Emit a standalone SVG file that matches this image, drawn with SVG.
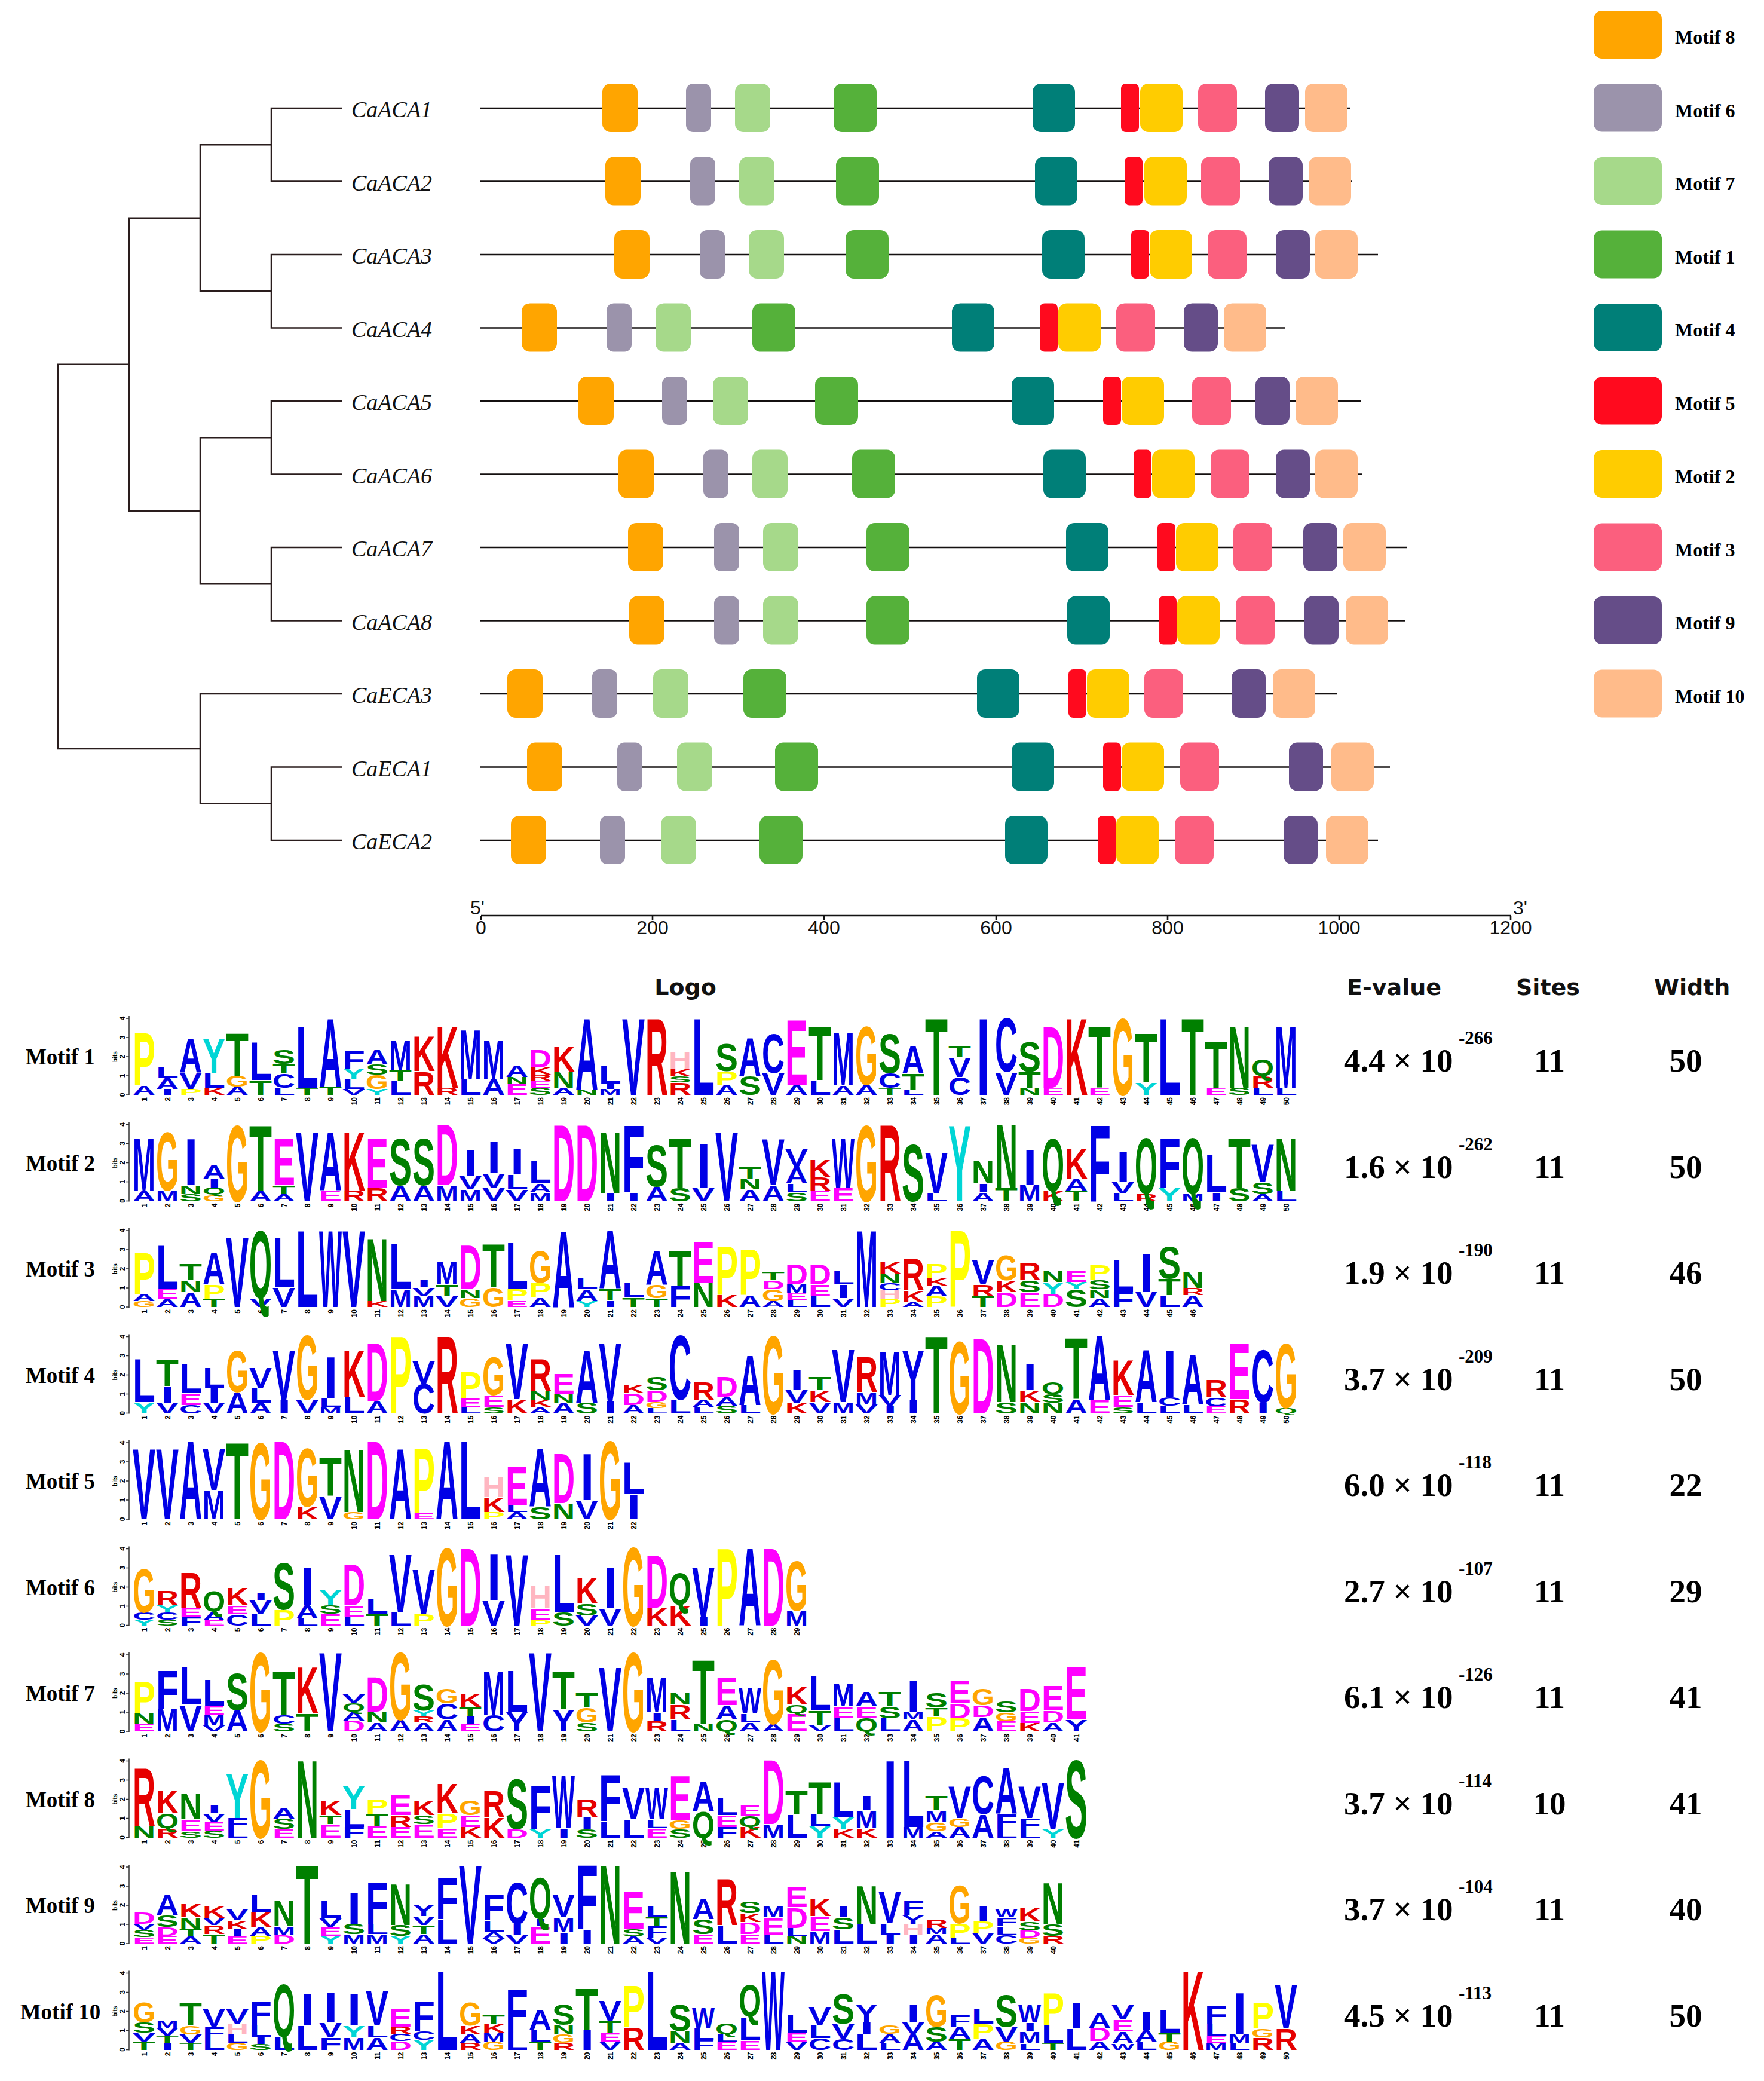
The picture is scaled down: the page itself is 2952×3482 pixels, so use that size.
<svg xmlns="http://www.w3.org/2000/svg" xmlns:xlink="http://www.w3.org/1999/xlink" width="2952" height="3482" viewBox="0 0 2952 3482">
<style>
.tree{fill:none;stroke:#2a1d1d;stroke-width:2.5;stroke-linecap:square}
.seq{stroke:#141010;stroke-width:2.6}
.lab{font:italic 38px "Liberation Serif","Times New Roman",serif;fill:#111}
.leg{font:bold 32px "Liberation Serif","Times New Roman",serif;fill:#000}
.tk{font:32px "Liberation Sans",Arial,sans-serif;fill:#111}
.hd{font:bold 38px "DejaVu Sans",Verdana,sans-serif;fill:#111}
.ev{font:bold 55px "Liberation Serif","Times New Roman",serif;fill:#000}
.sup{font:bold 31px "Liberation Serif","Times New Roman",serif;fill:#000}
.ml{font:bold 37px "Liberation Serif","Times New Roman",serif;fill:#000}
.lg text{font:bold 139.7px "Liberation Sans",Arial,sans-serif}
.nm{font:bold 12px "Liberation Sans",Arial,sans-serif;fill:#000}
.axl{fill:none;stroke:#333;stroke-width:1.5}
.b{fill:#0000e6}.g{fill:#008000}.o{fill:#ffa500}.y{fill:#ffff00}.c{fill:#00d5d5}.r{fill:#e60000}.m{fill:#ff00ff}.p{fill:#ffb6c1}
</style>
<defs>
<rect id="b8" width="59" height="81" rx="14" fill="#ffa500"/>
<rect id="b6" width="42" height="81" rx="12" fill="#9b93ab"/>
<rect id="b7" width="59" height="81" rx="14" fill="#a6d98a"/>
<rect id="b1" width="72" height="81" rx="14" fill="#55b13a"/>
<rect id="b4" width="71" height="81" rx="14" fill="#007f78"/>
<rect id="b5" width="30" height="81" rx="8" fill="#ff0a1e"/>
<rect id="b2" width="71" height="81" rx="14" fill="#ffcc00"/>
<rect id="b3" width="65" height="81" rx="14" fill="#fb5f7e"/>
<rect id="b9" width="57" height="81" rx="14" fill="#654d88"/>
<rect id="b10" width="71" height="81" rx="14" fill="#ffbb8a"/>
<g id="ax"><path class="axl" d="M-6 1V-132M-11 0h5M-11 -32h5M-11 -64h5M-11 -96h5M-11 -128h5"/><g transform="rotate(-90)" class="nm" text-anchor="middle"><text x="0" y="-13">0</text><text x="32" y="-13">1</text><text x="64" y="-13">2</text><text x="96" y="-13">3</text><text x="128" y="-13">4</text><text x="64" y="-26" font-size="10">bits</text></g></g>
<g id="n22"><text class="nm" text-anchor="end"><tspan x="-4" y="24">1</tspan><tspan x="-4" y="63">2</tspan><tspan x="-4" y="102">3</tspan><tspan x="-4" y="141">4</tspan><tspan x="-4" y="180">5</tspan><tspan x="-4" y="219">6</tspan><tspan x="-4" y="258">7</tspan><tspan x="-4" y="297">8</tspan><tspan x="-4" y="336">9</tspan><tspan x="-4" y="375">10</tspan><tspan x="-4" y="414">11</tspan><tspan x="-4" y="453">12</tspan><tspan x="-4" y="492">13</tspan><tspan x="-4" y="531">14</tspan><tspan x="-4" y="570">15</tspan><tspan x="-4" y="609">16</tspan><tspan x="-4" y="648">17</tspan><tspan x="-4" y="687">18</tspan><tspan x="-4" y="726">19</tspan><tspan x="-4" y="765">20</tspan><tspan x="-4" y="804">21</tspan><tspan x="-4" y="843">22</tspan></text></g>
<g id="n29"><use href="#n22"/><text class="nm" text-anchor="end"><tspan x="-4" y="882">23</tspan><tspan x="-4" y="921">24</tspan><tspan x="-4" y="960">25</tspan><tspan x="-4" y="999">26</tspan><tspan x="-4" y="1038">27</tspan><tspan x="-4" y="1077">28</tspan><tspan x="-4" y="1116">29</tspan></text></g>
<g id="n40"><use href="#n29"/><text class="nm" text-anchor="end"><tspan x="-4" y="1155">30</tspan><tspan x="-4" y="1194">31</tspan><tspan x="-4" y="1233">32</tspan><tspan x="-4" y="1272">33</tspan><tspan x="-4" y="1311">34</tspan><tspan x="-4" y="1350">35</tspan><tspan x="-4" y="1389">36</tspan><tspan x="-4" y="1428">37</tspan><tspan x="-4" y="1467">38</tspan><tspan x="-4" y="1506">39</tspan><tspan x="-4" y="1545">40</tspan></text></g>
<g id="n41"><use href="#n40"/><text class="nm" text-anchor="end" x="-4" y="1584">41</text></g>
<g id="n46"><use href="#n41"/><text class="nm" text-anchor="end"><tspan x="-4" y="1623">42</tspan><tspan x="-4" y="1662">43</tspan><tspan x="-4" y="1701">44</tspan><tspan x="-4" y="1740">45</tspan><tspan x="-4" y="1779">46</tspan></text></g>
<g id="n50"><use href="#n46"/><text class="nm" text-anchor="end"><tspan x="-4" y="1818">47</tspan><tspan x="-4" y="1857">48</tspan><tspan x="-4" y="1896">49</tspan><tspan x="-4" y="1935">50</tspan></text></g>
</defs>
<rect width="2952" height="3482" fill="#fff"/>

<g id="connectors" class="tree">
<path d="M97 609.75V1252.9M97 609.75H216M97 1252.9H335M216 364.75V854.75M216 364.75H335M216 854.75H335M335 242.25V487.25M335 242.25H454M335 487.25H454M335 732.25V977.25M335 732.25H454M335 977.25H454M335 1161V1344.75M335 1344.75H454M454 181V303.5M454 426V548.5M454 671V793.5M454 916V1038.5M454 1283.5V1406M454 181H571M454 303.5H571M454 426H571M454 548.5H571M454 671H571M454 793.5H571M454 916H571M454 1038.5H571M335 1161H571M454 1283.5H571M454 1406H571"/>
</g>

<g id="CaACA1"><text class="lab" x="588" y="196">CaACA1</text><path class="seq" d="M804 181H2260"/><use href="#b8" x="1008" y="140"/><use href="#b6" x="1148" y="140"/><use href="#b7" x="1230" y="140"/><use href="#b1" x="1395" y="140"/><use href="#b4" x="1728" y="140"/><use href="#b5" x="1876" y="140"/><use href="#b2" x="1908" y="140"/><use href="#b3" x="2005" y="140"/><use href="#b9" x="2117" y="140"/><use href="#b10" x="2184" y="140"/></g>
<g id="CaACA2"><text class="lab" x="588" y="318.5">CaACA2</text><path class="seq" d="M804 303.5H2262"/><use href="#b8" x="1013" y="262.5"/><use href="#b6" x="1155" y="262.5"/><use href="#b7" x="1237" y="262.5"/><use href="#b1" x="1399" y="262.5"/><use href="#b4" x="1732" y="262.5"/><use href="#b5" x="1882" y="262.5"/><use href="#b2" x="1915" y="262.5"/><use href="#b3" x="2010" y="262.5"/><use href="#b9" x="2123" y="262.5"/><use href="#b10" x="2190" y="262.5"/></g>
<g id="CaACA3"><text class="lab" x="588" y="441">CaACA3</text><path class="seq" d="M804 426H2306"/><use href="#b8" x="1028" y="385"/><use href="#b6" x="1171" y="385"/><use href="#b7" x="1253" y="385"/><use href="#b1" x="1415" y="385"/><use href="#b4" x="1744" y="385"/><use href="#b5" x="1893" y="385"/><use href="#b2" x="1924" y="385"/><use href="#b3" x="2021" y="385"/><use href="#b9" x="2135" y="385"/><use href="#b10" x="2201" y="385"/></g>
<g id="CaACA4"><text class="lab" x="588" y="563.5">CaACA4</text><path class="seq" d="M804 548.5H2150"/><use href="#b8" x="873" y="507.5"/><use href="#b6" x="1015" y="507.5"/><use href="#b7" x="1097" y="507.5"/><use href="#b1" x="1259" y="507.5"/><use href="#b4" x="1593" y="507.5"/><use href="#b5" x="1740" y="507.5"/><use href="#b2" x="1771" y="507.5"/><use href="#b3" x="1868" y="507.5"/><use href="#b9" x="1981" y="507.5"/><use href="#b10" x="2048" y="507.5"/></g>
<g id="CaACA5"><text class="lab" x="588" y="686">CaACA5</text><path class="seq" d="M804 671H2277"/><use href="#b8" x="968" y="630"/><use href="#b6" x="1108" y="630"/><use href="#b7" x="1193" y="630"/><use href="#b1" x="1364" y="630"/><use href="#b4" x="1693" y="630"/><use href="#b5" x="1846" y="630"/><use href="#b2" x="1877" y="630"/><use href="#b3" x="1995" y="630"/><use href="#b9" x="2101" y="630"/><use href="#b10" x="2168" y="630"/></g>
<g id="CaACA6"><text class="lab" x="588" y="808.5">CaACA6</text><path class="seq" d="M804 793.5H2279"/><use href="#b8" x="1035" y="752.5"/><use href="#b6" x="1177" y="752.5"/><use href="#b7" x="1259" y="752.5"/><use href="#b1" x="1426" y="752.5"/><use href="#b4" x="1746" y="752.5"/><use href="#b5" x="1897" y="752.5"/><use href="#b2" x="1928" y="752.5"/><use href="#b3" x="2026" y="752.5"/><use href="#b9" x="2135" y="752.5"/><use href="#b10" x="2201" y="752.5"/></g>
<g id="CaACA7"><text class="lab" x="588" y="931">CaACA7</text><path class="seq" d="M804 916H2355"/><use href="#b8" x="1051" y="875"/><use href="#b6" x="1195" y="875"/><use href="#b7" x="1277" y="875"/><use href="#b1" x="1450" y="875"/><use href="#b4" x="1784" y="875"/><use href="#b5" x="1937" y="875"/><use href="#b2" x="1968" y="875"/><use href="#b3" x="2064" y="875"/><use href="#b9" x="2181" y="875"/><use href="#b10" x="2248" y="875"/></g>
<g id="CaACA8"><text class="lab" x="588" y="1053.5">CaACA8</text><path class="seq" d="M804 1038.5H2352"/><use href="#b8" x="1053" y="997.5"/><use href="#b6" x="1195" y="997.5"/><use href="#b7" x="1277" y="997.5"/><use href="#b1" x="1450" y="997.5"/><use href="#b4" x="1786" y="997.5"/><use href="#b5" x="1939" y="997.5"/><use href="#b2" x="1970" y="997.5"/><use href="#b3" x="2068" y="997.5"/><use href="#b9" x="2183" y="997.5"/><use href="#b10" x="2252" y="997.5"/></g>
<g id="CaECA3"><text class="lab" x="588" y="1176">CaECA3</text><path class="seq" d="M804 1161H2237"/><use href="#b8" x="849" y="1120"/><use href="#b6" x="991" y="1120"/><use href="#b7" x="1093" y="1120"/><use href="#b1" x="1244" y="1120"/><use href="#b4" x="1635" y="1120"/><use href="#b5" x="1788" y="1120"/><use href="#b2" x="1819" y="1120"/><use href="#b3" x="1915" y="1120"/><use href="#b9" x="2061" y="1120"/><use href="#b10" x="2130" y="1120"/></g>
<g id="CaECA1"><text class="lab" x="588" y="1298.5">CaECA1</text><path class="seq" d="M804 1283.5H2326"/><use href="#b8" x="882" y="1242.5"/><use href="#b6" x="1033" y="1242.5"/><use href="#b7" x="1133" y="1242.5"/><use href="#b1" x="1297" y="1242.5"/><use href="#b4" x="1693" y="1242.5"/><use href="#b5" x="1846" y="1242.5"/><use href="#b2" x="1877" y="1242.5"/><use href="#b3" x="1975" y="1242.5"/><use href="#b9" x="2157" y="1242.5"/><use href="#b10" x="2228" y="1242.5"/></g>
<g id="CaECA2"><text class="lab" x="588" y="1421">CaECA2</text><path class="seq" d="M804 1406H2306"/><use href="#b8" x="855" y="1365"/><use href="#b6" x="1004" y="1365"/><use href="#b7" x="1106" y="1365"/><use href="#b1" x="1271" y="1365"/><use href="#b4" x="1682" y="1365"/><use href="#b5" x="1837" y="1365"/><use href="#b2" x="1868" y="1365"/><use href="#b3" x="1966" y="1365"/><use href="#b9" x="2148" y="1365"/><use href="#b10" x="2219" y="1365"/></g>

<g id="legend">
<rect x="2667" y="18" width="114" height="80" rx="14" fill="#ffa500"/><text class="leg" x="2803" y="73">Motif 8</text>
<rect x="2667" y="140.5" width="114" height="80" rx="14" fill="#9b93ab"/><text class="leg" x="2803" y="195.5">Motif 6</text>
<rect x="2667" y="263" width="114" height="80" rx="14" fill="#a6d98a"/><text class="leg" x="2803" y="318">Motif 7</text>
<rect x="2667" y="385.5" width="114" height="80" rx="14" fill="#55b13a"/><text class="leg" x="2803" y="440.5">Motif 1</text>
<rect x="2667" y="508" width="114" height="80" rx="14" fill="#007f78"/><text class="leg" x="2803" y="563">Motif 4</text>
<rect x="2667" y="630.5" width="114" height="80" rx="14" fill="#ff0a1e"/><text class="leg" x="2803" y="685.5">Motif 5</text>
<rect x="2667" y="753" width="114" height="80" rx="14" fill="#ffcc00"/><text class="leg" x="2803" y="808">Motif 2</text>
<rect x="2667" y="875.5" width="114" height="80" rx="14" fill="#fb5f7e"/><text class="leg" x="2803" y="930.5">Motif 3</text>
<rect x="2667" y="998" width="114" height="80" rx="14" fill="#654d88"/><text class="leg" x="2803" y="1053">Motif 9</text>
<rect x="2667" y="1120.5" width="114" height="80" rx="14" fill="#ffbb8a"/><text class="leg" x="2803" y="1175.5">Motif 10</text>
</g>

<g id="scale">
<path d="M805 1532H2528M805 1532v8M1092 1532v8M1379 1532v8M1667 1532v8M1954 1532v8M2241 1532v8M2528 1532v8" stroke="#111" stroke-width="2.6" fill="none"/>
<g class="tk" text-anchor="middle"><text x="805" y="1563">0</text><text x="1092" y="1563">200</text><text x="1379" y="1563">400</text><text x="1667" y="1563">600</text><text x="1954" y="1563">800</text><text x="2241" y="1563">1000</text><text x="2528" y="1563">1200</text></g>
<text class="tk" x="787" y="1530">5'</text><text class="tk" x="2532" y="1530">3'</text>
</g>

<g id="header">
<text class="hd" x="1147" y="1665" text-anchor="middle">Logo</text>
<text class="hd" x="2254" y="1665">E-value</text>
<text class="hd" x="2537" y="1665">Sites</text>
<text class="hd" x="2768" y="1665">Width</text>
</g>

<g id="table">
<g class="ml" text-anchor="middle">
<text x="101" y="1781">Motif 1</text><text x="101" y="1958.5">Motif 2</text><text x="101" y="2136">Motif 3</text><text x="101" y="2313.5">Motif 4</text><text x="101" y="2491">Motif 5</text><text x="101" y="2668.5">Motif 6</text><text x="101" y="2846">Motif 7</text><text x="101" y="3023.5">Motif 8</text><text x="101" y="3201">Motif 9</text><text x="101" y="3378.5">Motif 10</text>
</g>
<g class="ev">
<text x="2249" y="1793">4.4 × 10</text><text x="2249" y="1970.5">1.6 × 10</text><text x="2249" y="2148">1.9 × 10</text><text x="2249" y="2325.5">3.7 × 10</text><text x="2249" y="2503">6.0 × 10</text><text x="2249" y="2680.5">2.7 × 10</text><text x="2249" y="2858">6.1 × 10</text><text x="2249" y="3035.5">3.7 × 10</text><text x="2249" y="3213">3.7 × 10</text><text x="2249" y="3390.5">4.5 × 10</text>
</g>
<g class="sup">
<text x="2441" y="1747">-266</text><text x="2441" y="1924.5">-262</text><text x="2441" y="2102">-190</text><text x="2441" y="2279.5">-209</text><text x="2441" y="2457">-118</text><text x="2441" y="2634.5">-107</text><text x="2441" y="2812">-126</text><text x="2441" y="2989.5">-114</text><text x="2441" y="3167">-104</text><text x="2441" y="3344.5">-113</text>
</g>
<g class="ev" text-anchor="middle">
<text x="2593" y="1793">11</text><text x="2593" y="1970.5">11</text><text x="2593" y="2148">11</text><text x="2593" y="2325.5">11</text><text x="2593" y="2503">11</text><text x="2593" y="2680.5">11</text><text x="2593" y="2858">11</text><text x="2593" y="3035.5">10</text><text x="2593" y="3213">11</text><text x="2593" y="3390.5">11</text>
<text x="2821" y="1793">50</text><text x="2821" y="1970.5">50</text><text x="2821" y="2148">46</text><text x="2821" y="2325.5">50</text><text x="2821" y="2503">22</text><text x="2821" y="2680.5">29</text><text x="2821" y="2858">41</text><text x="2821" y="3035.5">41</text><text x="2821" y="3213">40</text><text x="2821" y="3390.5">50</text>
</g>
</g>

<g id="axes">
<use href="#ax" transform="translate(222 1832)"/><use href="#ax" transform="translate(222 2009.5)"/><use href="#ax" transform="translate(222 2187)"/><use href="#ax" transform="translate(222 2364.5)"/><use href="#ax" transform="translate(222 2542)"/><use href="#ax" transform="translate(222 2719.5)"/><use href="#ax" transform="translate(222 2897)"/><use href="#ax" transform="translate(222 3074.5)"/><use href="#ax" transform="translate(222 3252)"/><use href="#ax" transform="translate(222 3429.5)"/>
<use href="#n50" transform="translate(222 1832) rotate(-90)"/><use href="#n50" transform="translate(222 2009.5) rotate(-90)"/><use href="#n46" transform="translate(222 2187) rotate(-90)"/><use href="#n50" transform="translate(222 2364.5) rotate(-90)"/><use href="#n22" transform="translate(222 2542) rotate(-90)"/><use href="#n29" transform="translate(222 2719.5) rotate(-90)"/><use href="#n41" transform="translate(222 2897) rotate(-90)"/><use href="#n41" transform="translate(222 3074.5) rotate(-90)"/><use href="#n40" transform="translate(222 3252) rotate(-90)"/><use href="#n50" transform="translate(222 3429.5) rotate(-90)"/>
</g>

<g id="logo1" class="lg" transform="translate(222 1832)">
<text class="b" transform="matrix(.377 0 0 .16 0 0)">A</text>
<text class="y" transform="matrix(.408 0 0 .9 0 -16)">P</text>
<text class="b" transform="matrix(.6 0 0 .1 47 0)">I</text>
<text class="b" transform="matrix(.377 0 0 .18 39 -10)">A</text>
<text class="b" transform="matrix(.445 0 0 .18 39 -28)">L</text>
<text class="y" transform="matrix(.408 0 0 .1 78 0)">P</text>
<text class="b" transform="matrix(.408 0 0 .28 78 -10)">V</text>
<text class="b" transform="matrix(.377 0 0 .58 78 -38)">A</text>
<text class="r" transform="matrix(.377 0 0 .12 117 0)">K</text>
<text class="b" transform="matrix(.445 0 0 .25 117 -12)">L</text>
<text class="c" transform="matrix(.408 0 0 .58 117 -37)">Y</text>
<text class="b" transform="matrix(.377 0 0 .14 156 0)">A</text>
<text class="o" transform="matrix(.35 0 0 .18 156 -14)">G</text>
<text class="g" transform="matrix(.445 0 0 .73 156 -32)">T</text>
<text class="g" transform="matrix(.445 0 0 .25 195 0)">T</text>
<text class="b" transform="matrix(.445 0 0 .65 195 -25)">L</text>
<text class="b" transform="matrix(.445 0 0 .12 234 0)">L</text>
<text class="b" transform="matrix(.377 0 0 .24 234 -12)">C</text>
<text class="g" transform="matrix(.445 0 0 .16 234 -36)">T</text>
<text class="g" transform="matrix(.408 0 0 .24 234 -52)">S</text>
<text class="g" transform="matrix(.445 0 0 .12 273 0)">T</text>
<text class="b" transform="matrix(.445 0 0 1.05 273 -12)">L</text>
<text class="g" transform="matrix(.445 0 0 .13 312 0)">T</text>
<text class="b" transform="matrix(.377 0 0 1.18 312 -13)">A</text>
<text class="b" transform="matrix(.408 0 0 .1 351 0)">V</text>
<text class="b" transform="matrix(.445 0 0 .17 351 -10)">L</text>
<text class="c" transform="matrix(.408 0 0 .17 351 -27)">Y</text>
<text class="b" transform="matrix(.445 0 0 .3 351 -44)">F</text>
<text class="c" transform="matrix(.408 0 0 .1 390 0)">Y</text>
<text class="o" transform="matrix(.35 0 0 .24 390 -10)">G</text>
<text class="g" transform="matrix(.408 0 0 .17 390 -34)">S</text>
<text class="b" transform="matrix(.377 0 0 .25 390 -51)">A</text>
<text class="b" transform="matrix(.445 0 0 .24 429 0)">L</text>
<text class="g" transform="matrix(.445 0 0 .17 429 -24)">T</text>
<text class="b" transform="matrix(.326 0 0 .5 429 -41)">M</text>
<text class="r" transform="matrix(.377 0 0 .4 468 0)">R</text>
<text class="r" transform="matrix(.377 0 0 .6 468 -40)">K</text>
<text class="r" transform="matrix(.377 0 0 .12 507 0)">R</text>
<text class="r" transform="matrix(.377 0 0 1.05 507 -12)">K</text>
<text class="b" transform="matrix(.445 0 0 .26 546 0)">L</text>
<text class="b" transform="matrix(.326 0 0 .85 546 -26)">M</text>
<text class="b" transform="matrix(.377 0 0 .27 585 0)">A</text>
<text class="b" transform="matrix(.326 0 0 .67 585 -27)">M</text>
<text class="m" transform="matrix(.408 0 0 .18 624 0)">E</text>
<text class="g" transform="matrix(.377 0 0 .12 624 -18)">N</text>
<text class="b" transform="matrix(.377 0 0 .2 624 -30)">A</text>
<text class="g" transform="matrix(.408 0 0 .12 663 0)">S</text>
<text class="m" transform="matrix(.408 0 0 .12 663 -12)">E</text>
<text class="r" transform="matrix(.377 0 0 .1 663 -24)">R</text>
<text class="r" transform="matrix(.377 0 0 .12 663 -34)">K</text>
<text class="m" transform="matrix(.377 0 0 .3 663 -46)">D</text>
<text class="b" transform="matrix(.377 0 0 .12 702 0)">A</text>
<text class="g" transform="matrix(.377 0 0 .27 702 -12)">N</text>
<text class="r" transform="matrix(.377 0 0 .42 702 -39)">K</text>
<text class="g" transform="matrix(.377 0 0 .09 741 0)">N</text>
<text class="b" transform="matrix(.377 0 0 1.22 741 -9)">A</text>
<text class="b" transform="matrix(.326 0 0 .1 780 0)">M</text>
<text class="b" transform="matrix(.6 0 0 .09 788 -10)">I</text>
<text class="b" transform="matrix(.445 0 0 .3 780 -19)">L</text>
<text class="b" transform="matrix(.408 0 0 1.31 819 0)">V</text>
<text class="r" transform="matrix(.377 0 0 1.31 858 0)">R</text>
<text class="r" transform="matrix(.377 0 0 .21 897 0)">R</text>
<text class="g" transform="matrix(.408 0 0 .1 897 -21)">S</text>
<text class="r" transform="matrix(.377 0 0 .12 897 -31)">K</text>
<text class="p" transform="matrix(.377 0 0 .3 897 -43)">H</text>
<text class="b" transform="matrix(.445 0 0 1.31 936 0)">L</text>
<text class="b" transform="matrix(.377 0 0 .17 975 0)">A</text>
<text class="y" transform="matrix(.408 0 0 .23 975 -17)">P</text>
<text class="g" transform="matrix(.408 0 0 .47 975 -40)">S</text>
<text class="g" transform="matrix(.408 0 0 .32 1014 0)">S</text>
<text class="b" transform="matrix(.377 0 0 .65 1014 -32)">A</text>
<text class="b" transform="matrix(.408 0 0 .37 1053 0)">V</text>
<text class="b" transform="matrix(.377 0 0 .67 1053 -37)">C</text>
<text class="b" transform="matrix(.377 0 0 .17 1092 0)">A</text>
<text class="m" transform="matrix(.408 0 0 1.12 1092 -17)">E</text>
<text class="b" transform="matrix(.445 0 0 .25 1131 0)">L</text>
<text class="g" transform="matrix(.445 0 0 .92 1131 -25)">T</text>
<text class="b" transform="matrix(.377 0 0 .16 1170 0)">A</text>
<text class="b" transform="matrix(.326 0 0 .9 1170 -16)">M</text>
<text class="b" transform="matrix(.377 0 0 .17 1209 0)">A</text>
<text class="o" transform="matrix(.35 0 0 1 1209 -17)">G</text>
<text class="g" transform="matrix(.445 0 0 .12 1248 0)">T</text>
<text class="b" transform="matrix(.377 0 0 .25 1248 -12)">C</text>
<text class="g" transform="matrix(.408 0 0 .67 1248 -37)">S</text>
<text class="b" transform="matrix(.445 0 0 .09 1287 0)">L</text>
<text class="g" transform="matrix(.445 0 0 .27 1287 -9)">T</text>
<text class="b" transform="matrix(.377 0 0 .47 1287 -36)">A</text>
<text class="g" transform="matrix(.445 0 0 1.31 1326 0)">T</text>
<text class="b" transform="matrix(.377 0 0 .3 1365 0)">C</text>
<text class="b" transform="matrix(.408 0 0 .33 1365 -30)">V</text>
<text class="g" transform="matrix(.445 0 0 .18 1365 -63)">T</text>
<text class="b" transform="matrix(.6 0 0 1.31 1412 0)">I</text>
<text class="b" transform="matrix(.408 0 0 .39 1443 0)">V</text>
<text class="b" transform="matrix(.377 0 0 .92 1443 -39)">C</text>
<text class="g" transform="matrix(.377 0 0 .12 1482 0)">N</text>
<text class="g" transform="matrix(.445 0 0 .27 1482 -12)">T</text>
<text class="g" transform="matrix(.408 0 0 .5 1482 -39)">S</text>
<text class="m" transform="matrix(.408 0 0 .12 1521 0)">E</text>
<text class="m" transform="matrix(.377 0 0 1.05 1521 -12)">D</text>
<text class="r" transform="matrix(.377 0 0 1.31 1560 0)">K</text>
<text class="m" transform="matrix(.408 0 0 .12 1599 0)">E</text>
<text class="g" transform="matrix(.445 0 0 1.05 1599 -12)">T</text>
<text class="o" transform="matrix(.35 0 0 1.31 1638 0)">G</text>
<text class="c" transform="matrix(.408 0 0 .21 1677 0)">Y</text>
<text class="g" transform="matrix(.445 0 0 .83 1677 -21)">T</text>
<text class="b" transform="matrix(.445 0 0 1.31 1716 0)">L</text>
<text class="g" transform="matrix(.445 0 0 1.31 1755 0)">T</text>
<text class="m" transform="matrix(.408 0 0 .12 1794 0)">E</text>
<text class="g" transform="matrix(.445 0 0 .8 1794 -12)">T</text>
<text class="g" transform="matrix(.408 0 0 .12 1833 0)">S</text>
<text class="g" transform="matrix(.377 0 0 1.05 1833 -12)">N</text>
<text class="b" transform="matrix(.445 0 0 .12 1872 0)">L</text>
<text class="r" transform="matrix(.377 0 0 .2 1872 -12)">R</text>
<text class="g" transform="matrix(.35 0 0 .28 1872 -32)">Q</text>
<text class="b" transform="matrix(.445 0 0 .12 1911 0)">L</text>
<text class="b" transform="matrix(.326 0 0 1.05 1911 -12)">M</text>
</g>

<g id="logo2" class="lg" transform="translate(222 2009.5)">
<text class="b" transform="matrix(.377 0 0 .17 0 0)">A</text>
<text class="b" transform="matrix(.326 0 0 .9 0 -17)">M</text>
<text class="b" transform="matrix(.326 0 0 .18 39 0)">M</text>
<text class="o" transform="matrix(.35 0 0 1 39 -18)">G</text>
<text class="g" transform="matrix(.408 0 0 .12 78 0)">S</text>
<text class="g" transform="matrix(.377 0 0 .15 78 -12)">N</text>
<text class="b" transform="matrix(.6 0 0 .8 86 -27)">I</text>
<text class="o" transform="matrix(.35 0 0 .11 117 0)">G</text>
<text class="g" transform="matrix(.35 0 0 .12 117 -11)">Q</text>
<text class="b" transform="matrix(.6 0 0 .15 125 -23)">I</text>
<text class="b" transform="matrix(.377 0 0 .22 117 -38)">A</text>
<text class="o" transform="matrix(.35 0 0 1.3 156 0)">G</text>
<text class="b" transform="matrix(.377 0 0 .17 195 0)">A</text>
<text class="g" transform="matrix(.445 0 0 1.13 195 -17)">T</text>
<text class="b" transform="matrix(.377 0 0 .12 234 0)">A</text>
<text class="g" transform="matrix(.445 0 0 .15 234 -12)">T</text>
<text class="m" transform="matrix(.408 0 0 .8 234 -27)">E</text>
<text class="b" transform="matrix(.408 0 0 1.18 273 0)">V</text>
<text class="m" transform="matrix(.408 0 0 .18 312 0)">E</text>
<text class="b" transform="matrix(.377 0 0 1 312 -18)">A</text>
<text class="r" transform="matrix(.377 0 0 .18 351 0)">R</text>
<text class="r" transform="matrix(.377 0 0 1 351 -18)">K</text>
<text class="r" transform="matrix(.377 0 0 .22 390 0)">R</text>
<text class="m" transform="matrix(.408 0 0 .85 390 -22)">E</text>
<text class="b" transform="matrix(.377 0 0 .27 429 0)">A</text>
<text class="g" transform="matrix(.408 0 0 .8 429 -27)">S</text>
<text class="b" transform="matrix(.377 0 0 .27 468 0)">A</text>
<text class="g" transform="matrix(.408 0 0 .8 468 -27)">S</text>
<text class="b" transform="matrix(.326 0 0 .27 507 0)">M</text>
<text class="m" transform="matrix(.377 0 0 1.05 507 -27)">D</text>
<text class="b" transform="matrix(.326 0 0 .2 546 0)">M</text>
<text class="b" transform="matrix(.408 0 0 .22 546 -20)">V</text>
<text class="b" transform="matrix(.6 0 0 .45 554 -42)">I</text>
<text class="b" transform="matrix(.408 0 0 .22 585 0)">V</text>
<text class="b" transform="matrix(.408 0 0 .25 585 -22)">V</text>
<text class="b" transform="matrix(.6 0 0 .55 593 -47)">I</text>
<text class="b" transform="matrix(.408 0 0 .2 624 0)">V</text>
<text class="b" transform="matrix(.445 0 0 .25 624 -20)">L</text>
<text class="b" transform="matrix(.6 0 0 .45 632 -45)">I</text>
<text class="b" transform="matrix(.326 0 0 .15 663 0)">M</text>
<text class="b" transform="matrix(.377 0 0 .15 663 -15)">A</text>
<text class="b" transform="matrix(.445 0 0 .4 663 -30)">L</text>
<text class="m" transform="matrix(.377 0 0 1.32 702 0)">D</text>
<text class="m" transform="matrix(.377 0 0 1.32 741 0)">D</text>
<text class="b" transform="matrix(.6 0 0 .13 788 0)">I</text>
<text class="g" transform="matrix(.377 0 0 1.05 780 -13)">N</text>
<text class="b" transform="matrix(.6 0 0 .15 827 0)">I</text>
<text class="b" transform="matrix(.445 0 0 1.15 819 -15)">F</text>
<text class="b" transform="matrix(.377 0 0 .25 858 0)">A</text>
<text class="g" transform="matrix(.408 0 0 .7 858 -25)">S</text>
<text class="g" transform="matrix(.408 0 0 .22 897 0)">S</text>
<text class="g" transform="matrix(.445 0 0 .85 897 -22)">T</text>
<text class="b" transform="matrix(.408 0 0 .22 936 0)">V</text>
<text class="b" transform="matrix(.6 0 0 .75 944 -22)">I</text>
<text class="b" transform="matrix(.408 0 0 1.18 975 0)">V</text>
<text class="b" transform="matrix(.377 0 0 .2 1014 0)">A</text>
<text class="g" transform="matrix(.377 0 0 .18 1014 -20)">N</text>
<text class="g" transform="matrix(.445 0 0 .2 1014 -38)">T</text>
<text class="b" transform="matrix(.377 0 0 .27 1053 0)">A</text>
<text class="b" transform="matrix(.408 0 0 .8 1053 -27)">V</text>
<text class="g" transform="matrix(.408 0 0 .15 1092 0)">S</text>
<text class="b" transform="matrix(.445 0 0 .15 1092 -15)">L</text>
<text class="b" transform="matrix(.377 0 0 .28 1092 -30)">A</text>
<text class="b" transform="matrix(.408 0 0 .3 1092 -58)">V</text>
<text class="m" transform="matrix(.408 0 0 .18 1131 0)">E</text>
<text class="r" transform="matrix(.377 0 0 .22 1131 -18)">R</text>
<text class="r" transform="matrix(.377 0 0 .3 1131 -40)">K</text>
<text class="m" transform="matrix(.408 0 0 .22 1170 0)">E</text>
<text class="b" transform="matrix(.288 0 0 .85 1170 -22)">W</text>
<text class="o" transform="matrix(.35 0 0 1.3 1209 0)">G</text>
<text class="r" transform="matrix(.377 0 0 1.32 1248 0)">R</text>
<text class="g" transform="matrix(.408 0 0 .97 1287 0)">S</text>
<text class="b" transform="matrix(.445 0 0 .13 1326 0)">L</text>
<text class="b" transform="matrix(.408 0 0 .7 1326 -13)">V</text>
<text class="c" transform="matrix(.408 0 0 1.3 1365 0)">Y</text>
<text class="b" transform="matrix(.377 0 0 .15 1404 0)">A</text>
<text class="b" transform="matrix(.6 0 0 .15 1412 -15)">I</text>
<text class="g" transform="matrix(.377 0 0 .4 1404 -30)">N</text>
<text class="g" transform="matrix(.445 0 0 .22 1443 0)">T</text>
<text class="g" transform="matrix(.377 0 0 1.1 1443 -22)">N</text>
<text class="b" transform="matrix(.326 0 0 .28 1482 0)">M</text>
<text class="b" transform="matrix(.6 0 0 .6 1490 -28)">I</text>
<text class="r" transform="matrix(.377 0 0 .17 1521 0)">K</text>
<text class="g" transform="matrix(.35 0 0 .9 1521 -17)">Q</text>
<text class="g" transform="matrix(.445 0 0 .18 1560 0)">T</text>
<text class="b" transform="matrix(.377 0 0 .2 1560 -18)">A</text>
<text class="r" transform="matrix(.377 0 0 .5 1560 -38)">K</text>
<text class="b" transform="matrix(.445 0 0 1.32 1599 0)">F</text>
<text class="b" transform="matrix(.445 0 0 .13 1638 0)">L</text>
<text class="b" transform="matrix(.408 0 0 .2 1638 -13)">V</text>
<text class="b" transform="matrix(.6 0 0 .5 1646 -33)">I</text>
<text class="r" transform="matrix(.377 0 0 .12 1677 0)">R</text>
<text class="g" transform="matrix(.35 0 0 .95 1677 -12)">Q</text>
<text class="c" transform="matrix(.408 0 0 .22 1716 0)">Y</text>
<text class="b" transform="matrix(.445 0 0 .85 1716 -22)">F</text>
<text class="b" transform="matrix(.326 0 0 .12 1755 0)">M</text>
<text class="g" transform="matrix(.35 0 0 .95 1755 -12)">Q</text>
<text class="b" transform="matrix(.6 0 0 .15 1802 0)">I</text>
<text class="b" transform="matrix(.445 0 0 .65 1794 -15)">L</text>
<text class="g" transform="matrix(.408 0 0 .22 1833 0)">S</text>
<text class="g" transform="matrix(.445 0 0 .85 1833 -22)">T</text>
<text class="b" transform="matrix(.377 0 0 .12 1872 0)">A</text>
<text class="g" transform="matrix(.408 0 0 .2 1872 -12)">S</text>
<text class="b" transform="matrix(.408 0 0 .65 1872 -32)">V</text>
<text class="b" transform="matrix(.445 0 0 .17 1911 0)">L</text>
<text class="g" transform="matrix(.377 0 0 .9 1911 -17)">N</text>
</g>

<g id="logo3" class="lg" transform="translate(222 2187)">
<text class="o" transform="matrix(.35 0 0 .1 0 0)">G</text>
<text class="b" transform="matrix(.377 0 0 .12 0 -10)">A</text>
<text class="y" transform="matrix(.408 0 0 .7 0 -22)">P</text>
<text class="b" transform="matrix(.377 0 0 .13 39 0)">A</text>
<text class="m" transform="matrix(.408 0 0 .18 39 -13)">E</text>
<text class="b" transform="matrix(.445 0 0 .75 39 -31)">L</text>
<text class="b" transform="matrix(.377 0 0 .25 78 0)">A</text>
<text class="g" transform="matrix(.377 0 0 .2 78 -25)">N</text>
<text class="g" transform="matrix(.445 0 0 .28 78 -45)">T</text>
<text class="g" transform="matrix(.445 0 0 .13 117 0)">T</text>
<text class="y" transform="matrix(.408 0 0 .25 117 -13)">P</text>
<text class="b" transform="matrix(.377 0 0 .55 117 -38)">A</text>
<text class="b" transform="matrix(.408 0 0 1.2 156 0)">V</text>
<text class="b" transform="matrix(.408 0 0 .15 195 0)">V</text>
<text class="g" transform="matrix(.35 0 0 1.16 195 -15)">Q</text>
<text class="b" transform="matrix(.408 0 0 .33 234 0)">V</text>
<text class="b" transform="matrix(.445 0 0 .85 234 -33)">L</text>
<text class="b" transform="matrix(.445 0 0 1.31 273 0)">L</text>
<text class="b" transform="matrix(.288 0 0 1.31 312 0)">W</text>
<text class="b" transform="matrix(.408 0 0 1.31 351 0)">V</text>
<text class="r" transform="matrix(.377 0 0 .1 390 0)">K</text>
<text class="g" transform="matrix(.377 0 0 1.08 390 -10)">N</text>
<text class="b" transform="matrix(.326 0 0 .3 429 0)">M</text>
<text class="b" transform="matrix(.445 0 0 .78 429 -30)">L</text>
<text class="b" transform="matrix(.326 0 0 .18 468 0)">M</text>
<text class="b" transform="matrix(.408 0 0 .15 468 -18)">V</text>
<text class="b" transform="matrix(.6 0 0 .12 476 -33)">I</text>
<text class="b" transform="matrix(.408 0 0 .18 507 0)">V</text>
<text class="g" transform="matrix(.445 0 0 .2 507 -18)">T</text>
<text class="b" transform="matrix(.326 0 0 .4 507 -38)">M</text>
<text class="o" transform="matrix(.35 0 0 .15 546 0)">G</text>
<text class="g" transform="matrix(.377 0 0 .15 546 -15)">N</text>
<text class="m" transform="matrix(.377 0 0 .76 546 -30)">D</text>
<text class="o" transform="matrix(.35 0 0 .33 585 0)">G</text>
<text class="g" transform="matrix(.445 0 0 .75 585 -33)">T</text>
<text class="m" transform="matrix(.408 0 0 .11 624 0)">E</text>
<text class="y" transform="matrix(.408 0 0 .2 624 -11)">P</text>
<text class="b" transform="matrix(.445 0 0 .8 624 -31)">L</text>
<text class="b" transform="matrix(.377 0 0 .16 663 0)">A</text>
<text class="y" transform="matrix(.408 0 0 .25 663 -16)">P</text>
<text class="o" transform="matrix(.35 0 0 .55 663 -41)">G</text>
<text class="b" transform="matrix(.377 0 0 1.31 702 0)">A</text>
<text class="c" transform="matrix(.408 0 0 .1 741 0)">Y</text>
<text class="b" transform="matrix(.377 0 0 .2 741 -10)">A</text>
<text class="b" transform="matrix(.445 0 0 .18 741 -30)">L</text>
<text class="b" transform="matrix(.6 0 0 .11 788 0)">I</text>
<text class="g" transform="matrix(.445 0 0 .2 780 -11)">T</text>
<text class="b" transform="matrix(.377 0 0 1 780 -31)">A</text>
<text class="g" transform="matrix(.445 0 0 .16 819 0)">T</text>
<text class="b" transform="matrix(.445 0 0 .25 819 -16)">L</text>
<text class="g" transform="matrix(.445 0 0 .15 858 0)">T</text>
<text class="o" transform="matrix(.35 0 0 .23 858 -15)">G</text>
<text class="b" transform="matrix(.377 0 0 .58 858 -38)">A</text>
<text class="b" transform="matrix(.445 0 0 .36 897 0)">F</text>
<text class="g" transform="matrix(.445 0 0 .6 897 -36)">T</text>
<text class="g" transform="matrix(.377 0 0 .41 936 0)">N</text>
<text class="m" transform="matrix(.408 0 0 .7 936 -41)">E</text>
<text class="r" transform="matrix(.377 0 0 .21 975 0)">K</text>
<text class="y" transform="matrix(.408 0 0 .83 975 -21)">P</text>
<text class="b" transform="matrix(.377 0 0 .2 1014 0)">A</text>
<text class="y" transform="matrix(.408 0 0 .78 1014 -20)">P</text>
<text class="b" transform="matrix(.377 0 0 .1 1053 0)">A</text>
<text class="o" transform="matrix(.35 0 0 .2 1053 -10)">G</text>
<text class="m" transform="matrix(.377 0 0 .15 1053 -30)">D</text>
<text class="g" transform="matrix(.445 0 0 .15 1053 -45)">T</text>
<text class="b" transform="matrix(.445 0 0 .12 1092 0)">L</text>
<text class="m" transform="matrix(.408 0 0 .12 1092 -12)">E</text>
<text class="b" transform="matrix(.326 0 0 .14 1092 -24)">M</text>
<text class="m" transform="matrix(.377 0 0 .35 1092 -38)">D</text>
<text class="b" transform="matrix(.445 0 0 .18 1131 0)">L</text>
<text class="m" transform="matrix(.408 0 0 .2 1131 -18)">E</text>
<text class="m" transform="matrix(.377 0 0 .35 1131 -38)">D</text>
<text class="b" transform="matrix(.408 0 0 .15 1170 0)">V</text>
<text class="b" transform="matrix(.6 0 0 .23 1178 -15)">I</text>
<text class="b" transform="matrix(.445 0 0 .22 1170 -38)">L</text>
<text class="b" transform="matrix(.326 0 0 1.31 1209 0)">M</text>
<text class="y" transform="matrix(.408 0 0 .14 1248 0)">P</text>
<text class="p" transform="matrix(.377 0 0 .14 1248 -14)">H</text>
<text class="b" transform="matrix(.377 0 0 .12 1248 -28)">C</text>
<text class="g" transform="matrix(.377 0 0 .16 1248 -40)">N</text>
<text class="r" transform="matrix(.377 0 0 .2 1248 -56)">K</text>
<text class="b" transform="matrix(.377 0 0 .08 1287 0)">A</text>
<text class="r" transform="matrix(.377 0 0 .2 1287 -8)">K</text>
<text class="r" transform="matrix(.377 0 0 .55 1287 -28)">R</text>
<text class="y" transform="matrix(.408 0 0 .18 1326 0)">P</text>
<text class="b" transform="matrix(.377 0 0 .18 1326 -18)">A</text>
<text class="r" transform="matrix(.377 0 0 .12 1326 -36)">K</text>
<text class="y" transform="matrix(.408 0 0 .25 1326 -48)">P</text>
<text class="y" transform="matrix(.408 0 0 1.31 1365 0)">P</text>
<text class="g" transform="matrix(.445 0 0 .18 1404 0)">T</text>
<text class="r" transform="matrix(.377 0 0 .2 1404 -18)">R</text>
<text class="b" transform="matrix(.408 0 0 .42 1404 -38)">V</text>
<text class="m" transform="matrix(.377 0 0 .25 1443 0)">D</text>
<text class="r" transform="matrix(.377 0 0 .2 1443 -25)">K</text>
<text class="o" transform="matrix(.35 0 0 .43 1443 -45)">G</text>
<text class="m" transform="matrix(.408 0 0 .25 1482 0)">E</text>
<text class="g" transform="matrix(.408 0 0 .2 1482 -25)">S</text>
<text class="r" transform="matrix(.377 0 0 .3 1482 -45)">R</text>
<text class="m" transform="matrix(.377 0 0 .22 1521 0)">D</text>
<text class="c" transform="matrix(.408 0 0 .2 1521 -22)">Y</text>
<text class="g" transform="matrix(.377 0 0 .18 1521 -42)">N</text>
<text class="g" transform="matrix(.408 0 0 .3 1560 0)">S</text>
<text class="c" transform="matrix(.408 0 0 .12 1560 -30)">Y</text>
<text class="m" transform="matrix(.408 0 0 .18 1560 -42)">E</text>
<text class="b" transform="matrix(.377 0 0 .15 1599 0)">A</text>
<text class="g" transform="matrix(.377 0 0 .15 1599 -15)">N</text>
<text class="g" transform="matrix(.408 0 0 .16 1599 -30)">S</text>
<text class="y" transform="matrix(.408 0 0 .25 1599 -46)">P</text>
<text class="b" transform="matrix(.445 0 0 .26 1638 0)">F</text>
<text class="b" transform="matrix(.445 0 0 .55 1638 -26)">L</text>
<text class="b" transform="matrix(.408 0 0 .26 1677 0)">V</text>
<text class="b" transform="matrix(.6 0 0 .65 1685 -26)">I</text>
<text class="b" transform="matrix(.445 0 0 .2 1716 0)">L</text>
<text class="g" transform="matrix(.445 0 0 .28 1716 -20)">T</text>
<text class="g" transform="matrix(.408 0 0 .55 1716 -48)">S</text>
<text class="b" transform="matrix(.377 0 0 .2 1755 0)">A</text>
<text class="r" transform="matrix(.377 0 0 .12 1755 -20)">R</text>
<text class="g" transform="matrix(.377 0 0 .28 1755 -32)">N</text>
</g>

<g id="logo4" class="lg" transform="translate(222 2364.5)">
<text class="c" transform="matrix(.408 0 0 .19 0 0)">Y</text>
<text class="b" transform="matrix(.445 0 0 .75 0 -19)">L</text>
<text class="b" transform="matrix(.408 0 0 .18 39 0)">V</text>
<text class="b" transform="matrix(.6 0 0 .28 47 -18)">I</text>
<text class="g" transform="matrix(.445 0 0 .45 39 -46)">T</text>
<text class="b" transform="matrix(.377 0 0 .14 78 0)">C</text>
<text class="m" transform="matrix(.408 0 0 .2 78 -14)">E</text>
<text class="b" transform="matrix(.445 0 0 .5 78 -34)">L</text>
<text class="b" transform="matrix(.408 0 0 .18 117 0)">V</text>
<text class="b" transform="matrix(.6 0 0 .25 125 -18)">I</text>
<text class="b" transform="matrix(.445 0 0 .35 117 -43)">L</text>
<text class="b" transform="matrix(.377 0 0 .36 156 0)">A</text>
<text class="o" transform="matrix(.35 0 0 .7 156 -36)">G</text>
<text class="b" transform="matrix(.377 0 0 .18 195 0)">A</text>
<text class="b" transform="matrix(.445 0 0 .25 195 -18)">L</text>
<text class="b" transform="matrix(.408 0 0 .35 195 -43)">V</text>
<text class="b" transform="matrix(.6 0 0 .23 242 0)">I</text>
<text class="b" transform="matrix(.408 0 0 .85 234 -23)">V</text>
<text class="b" transform="matrix(.408 0 0 .23 273 0)">V</text>
<text class="o" transform="matrix(.35 0 0 1.1 273 -23)">G</text>
<text class="b" transform="matrix(.326 0 0 .11 312 0)">M</text>
<text class="b" transform="matrix(.445 0 0 .15 312 -11)">L</text>
<text class="b" transform="matrix(.6 0 0 .7 320 -26)">I</text>
<text class="b" transform="matrix(.445 0 0 .28 351 0)">L</text>
<text class="r" transform="matrix(.377 0 0 .8 351 -28)">K</text>
<text class="b" transform="matrix(.377 0 0 .21 390 0)">A</text>
<text class="m" transform="matrix(.377 0 0 1 390 -21)">D</text>
<text class="y" transform="matrix(.408 0 0 1.33 429 0)">P</text>
<text class="b" transform="matrix(.377 0 0 .5 468 0)">C</text>
<text class="b" transform="matrix(.408 0 0 .38 468 -50)">V</text>
<text class="r" transform="matrix(.377 0 0 1.33 507 0)">R</text>
<text class="b" transform="matrix(.445 0 0 .1 546 0)">L</text>
<text class="m" transform="matrix(.408 0 0 .16 546 -10)">E</text>
<text class="y" transform="matrix(.408 0 0 .45 546 -26)">P</text>
<text class="g" transform="matrix(.408 0 0 .11 585 0)">S</text>
<text class="m" transform="matrix(.408 0 0 .2 585 -11)">E</text>
<text class="o" transform="matrix(.35 0 0 .65 585 -31)">G</text>
<text class="r" transform="matrix(.377 0 0 .24 624 0)">K</text>
<text class="b" transform="matrix(.408 0 0 .95 624 -24)">V</text>
<text class="b" transform="matrix(.377 0 0 .11 663 0)">A</text>
<text class="r" transform="matrix(.377 0 0 .12 663 -11)">K</text>
<text class="g" transform="matrix(.377 0 0 .15 663 -23)">N</text>
<text class="r" transform="matrix(.377 0 0 .55 663 -38)">R</text>
<text class="b" transform="matrix(.377 0 0 .18 702 0)">A</text>
<text class="g" transform="matrix(.377 0 0 .15 702 -18)">N</text>
<text class="m" transform="matrix(.408 0 0 .35 702 -33)">E</text>
<text class="g" transform="matrix(.408 0 0 .18 741 0)">S</text>
<text class="b" transform="matrix(.377 0 0 .9 741 -18)">A</text>
<text class="b" transform="matrix(.6 0 0 .21 788 0)">I</text>
<text class="b" transform="matrix(.408 0 0 1 780 -21)">V</text>
<text class="b" transform="matrix(.377 0 0 .14 819 0)">A</text>
<text class="m" transform="matrix(.377 0 0 .2 819 -14)">D</text>
<text class="r" transform="matrix(.377 0 0 .15 819 -34)">K</text>
<text class="b" transform="matrix(.445 0 0 .09 858 0)">L</text>
<text class="o" transform="matrix(.35 0 0 .1 858 -9)">G</text>
<text class="m" transform="matrix(.377 0 0 .2 858 -19)">D</text>
<text class="g" transform="matrix(.408 0 0 .22 858 -39)">S</text>
<text class="b" transform="matrix(.445 0 0 .23 897 0)">L</text>
<text class="b" transform="matrix(.377 0 0 1.1 897 -23)">C</text>
<text class="b" transform="matrix(.445 0 0 .11 936 0)">L</text>
<text class="b" transform="matrix(.377 0 0 .12 936 -11)">A</text>
<text class="r" transform="matrix(.377 0 0 .3 936 -23)">R</text>
<text class="g" transform="matrix(.408 0 0 .13 975 0)">S</text>
<text class="b" transform="matrix(.377 0 0 .15 975 -13)">A</text>
<text class="m" transform="matrix(.377 0 0 .35 975 -28)">D</text>
<text class="b" transform="matrix(.445 0 0 .14 1014 0)">L</text>
<text class="b" transform="matrix(.377 0 0 .85 1014 -14)">A</text>
<text class="o" transform="matrix(.35 0 0 1.33 1053 0)">G</text>
<text class="r" transform="matrix(.377 0 0 .17 1092 0)">K</text>
<text class="b" transform="matrix(.408 0 0 .22 1092 -17)">V</text>
<text class="b" transform="matrix(.6 0 0 .35 1100 -39)">I</text>
<text class="b" transform="matrix(.408 0 0 .19 1131 0)">V</text>
<text class="r" transform="matrix(.377 0 0 .2 1131 -19)">K</text>
<text class="g" transform="matrix(.445 0 0 .22 1131 -39)">T</text>
<text class="b" transform="matrix(.326 0 0 .19 1170 0)">M</text>
<text class="b" transform="matrix(.408 0 0 .9 1170 -19)">V</text>
<text class="b" transform="matrix(.408 0 0 .16 1209 0)">V</text>
<text class="b" transform="matrix(.326 0 0 .2 1209 -16)">M</text>
<text class="r" transform="matrix(.377 0 0 .6 1209 -36)">R</text>
<text class="b" transform="matrix(.6 0 0 .13 1256 0)">I</text>
<text class="b" transform="matrix(.408 0 0 .18 1248 -13)">V</text>
<text class="b" transform="matrix(.326 0 0 .75 1248 -31)">M</text>
<text class="b" transform="matrix(.6 0 0 .23 1295 0)">I</text>
<text class="b" transform="matrix(.408 0 0 .85 1287 -23)">Y</text>
<text class="g" transform="matrix(.445 0 0 1.33 1326 0)">T</text>
<text class="o" transform="matrix(.35 0 0 1.23 1365 0)">G</text>
<text class="m" transform="matrix(.377 0 0 1.29 1404 0)">D</text>
<text class="g" transform="matrix(.408 0 0 .19 1443 0)">S</text>
<text class="g" transform="matrix(.377 0 0 1 1443 -19)">N</text>
<text class="g" transform="matrix(.377 0 0 .19 1482 0)">N</text>
<text class="r" transform="matrix(.377 0 0 .2 1482 -19)">K</text>
<text class="b" transform="matrix(.6 0 0 .45 1490 -39)">I</text>
<text class="g" transform="matrix(.377 0 0 .18 1521 0)">N</text>
<text class="g" transform="matrix(.408 0 0 .15 1521 -18)">S</text>
<text class="g" transform="matrix(.35 0 0 .2 1521 -33)">Q</text>
<text class="b" transform="matrix(.377 0 0 .24 1560 0)">A</text>
<text class="g" transform="matrix(.445 0 0 1.05 1560 -24)">T</text>
<text class="m" transform="matrix(.408 0 0 .23 1599 0)">E</text>
<text class="b" transform="matrix(.377 0 0 1.1 1599 -23)">A</text>
<text class="g" transform="matrix(.408 0 0 .11 1638 0)">S</text>
<text class="m" transform="matrix(.408 0 0 .2 1638 -11)">E</text>
<text class="r" transform="matrix(.377 0 0 .6 1638 -31)">K</text>
<text class="b" transform="matrix(.445 0 0 .19 1677 0)">L</text>
<text class="b" transform="matrix(.377 0 0 .9 1677 -19)">A</text>
<text class="b" transform="matrix(.445 0 0 .13 1716 0)">L</text>
<text class="b" transform="matrix(.377 0 0 .15 1716 -13)">C</text>
<text class="b" transform="matrix(.6 0 0 .8 1724 -28)">I</text>
<text class="b" transform="matrix(.445 0 0 .15 1755 0)">L</text>
<text class="b" transform="matrix(.377 0 0 .85 1755 -15)">A</text>
<text class="m" transform="matrix(.408 0 0 .12 1794 0)">E</text>
<text class="b" transform="matrix(.377 0 0 .15 1794 -12)">C</text>
<text class="r" transform="matrix(.377 0 0 .3 1794 -27)">R</text>
<text class="r" transform="matrix(.377 0 0 .24 1833 0)">R</text>
<text class="m" transform="matrix(.408 0 0 .95 1833 -24)">E</text>
<text class="b" transform="matrix(.6 0 0 .18 1880 0)">I</text>
<text class="b" transform="matrix(.377 0 0 .9 1872 -18)">C</text>
<text class="g" transform="matrix(.35 0 0 .09 1911 0)">Q</text>
<text class="o" transform="matrix(.35 0 0 1.1 1911 -9)">G</text>
</g>

<g id="logo5" class="lg" transform="translate(222 2542)">
<text class="b" transform="matrix(.408 0 0 1.21 0 0)">V</text>
<text class="b" transform="matrix(.408 0 0 1.21 39 0)">V</text>
<text class="b" transform="matrix(.377 0 0 1.34 78 0)">A</text>
<text class="b" transform="matrix(.326 0 0 .49 117 0)">M</text>
<text class="b" transform="matrix(.408 0 0 .7 117 -49)">V</text>
<text class="g" transform="matrix(.445 0 0 1.32 156 0)">T</text>
<text class="o" transform="matrix(.35 0 0 1.32 195 0)">G</text>
<text class="m" transform="matrix(.377 0 0 1.34 234 0)">D</text>
<text class="r" transform="matrix(.377 0 0 .21 273 0)">K</text>
<text class="o" transform="matrix(.35 0 0 1 273 -21)">G</text>
<text class="b" transform="matrix(.408 0 0 .39 312 0)">V</text>
<text class="g" transform="matrix(.445 0 0 .65 312 -39)">T</text>
<text class="o" transform="matrix(.35 0 0 .12 351 0)">G</text>
<text class="g" transform="matrix(.377 0 0 1.07 351 -12)">N</text>
<text class="m" transform="matrix(.377 0 0 1.34 390 0)">D</text>
<text class="b" transform="matrix(.377 0 0 1.21 429 0)">A</text>
<text class="m" transform="matrix(.408 0 0 .1 468 0)">E</text>
<text class="y" transform="matrix(.408 0 0 1.11 468 -10)">P</text>
<text class="b" transform="matrix(.377 0 0 1.34 507 0)">A</text>
<text class="b" transform="matrix(.445 0 0 1.34 546 0)">L</text>
<text class="y" transform="matrix(.408 0 0 .12 585 0)">P</text>
<text class="r" transform="matrix(.377 0 0 .25 585 -12)">K</text>
<text class="p" transform="matrix(.377 0 0 .35 585 -37)">H</text>
<text class="b" transform="matrix(.377 0 0 .12 624 0)">A</text>
<text class="b" transform="matrix(.445 0 0 .12 624 -12)">L</text>
<text class="m" transform="matrix(.408 0 0 .65 624 -24)">E</text>
<text class="g" transform="matrix(.408 0 0 .21 663 0)">S</text>
<text class="b" transform="matrix(.377 0 0 1 663 -21)">A</text>
<text class="g" transform="matrix(.377 0 0 .27 702 0)">N</text>
<text class="m" transform="matrix(.377 0 0 .85 702 -27)">D</text>
<text class="b" transform="matrix(.408 0 0 .32 741 0)">V</text>
<text class="b" transform="matrix(.6 0 0 .8 749 -32)">I</text>
<text class="o" transform="matrix(.35 0 0 1.34 780 0)">G</text>
<text class="b" transform="matrix(.6 0 0 .42 827 0)">I</text>
<text class="b" transform="matrix(.445 0 0 .55 819 -42)">L</text>
</g>

<g id="logo6" class="lg" transform="translate(222 2719.5)">
<text class="c" transform="matrix(.408 0 0 .1 0 0)">Y</text>
<text class="b" transform="matrix(.377 0 0 .12 0 -10)">C</text>
<text class="o" transform="matrix(.35 0 0 .75 0 -22)">G</text>
<text class="g" transform="matrix(.408 0 0 .1 39 0)">S</text>
<text class="b" transform="matrix(.377 0 0 .12 39 -10)">C</text>
<text class="c" transform="matrix(.408 0 0 .12 39 -22)">Y</text>
<text class="r" transform="matrix(.377 0 0 .25 39 -34)">R</text>
<text class="b" transform="matrix(.445 0 0 .15 78 0)">F</text>
<text class="m" transform="matrix(.408 0 0 .15 78 -15)">E</text>
<text class="r" transform="matrix(.377 0 0 .6 78 -30)">R</text>
<text class="m" transform="matrix(.408 0 0 .09 117 0)">E</text>
<text class="b" transform="matrix(.377 0 0 .15 117 -9)">A</text>
<text class="g" transform="matrix(.35 0 0 .35 117 -24)">Q</text>
<text class="b" transform="matrix(.377 0 0 .19 156 0)">C</text>
<text class="m" transform="matrix(.408 0 0 .15 156 -19)">E</text>
<text class="r" transform="matrix(.377 0 0 .3 156 -34)">K</text>
<text class="b" transform="matrix(.445 0 0 .2 195 0)">L</text>
<text class="b" transform="matrix(.408 0 0 .22 195 -20)">V</text>
<text class="b" transform="matrix(.6 0 0 .12 203 -42)">I</text>
<text class="y" transform="matrix(.408 0 0 .27 234 0)">P</text>
<text class="g" transform="matrix(.408 0 0 .8 234 -27)">S</text>
<text class="b" transform="matrix(.445 0 0 .12 273 0)">L</text>
<text class="b" transform="matrix(.377 0 0 .22 273 -12)">A</text>
<text class="b" transform="matrix(.6 0 0 .65 281 -34)">I</text>
<text class="m" transform="matrix(.408 0 0 .2 312 0)">E</text>
<text class="g" transform="matrix(.408 0 0 .15 312 -20)">S</text>
<text class="c" transform="matrix(.408 0 0 .25 312 -35)">Y</text>
<text class="b" transform="matrix(.445 0 0 .14 351 0)">L</text>
<text class="m" transform="matrix(.408 0 0 .2 351 -14)">E</text>
<text class="m" transform="matrix(.377 0 0 .7 351 -34)">D</text>
<text class="g" transform="matrix(.445 0 0 .2 390 0)">T</text>
<text class="b" transform="matrix(.445 0 0 .25 390 -20)">L</text>
<text class="b" transform="matrix(.445 0 0 .22 429 0)">L</text>
<text class="b" transform="matrix(.408 0 0 1 429 -22)">V</text>
<text class="y" transform="matrix(.408 0 0 .2 468 0)">P</text>
<text class="b" transform="matrix(.408 0 0 .75 468 -20)">V</text>
<text class="o" transform="matrix(.35 0 0 1.33 507 0)">G</text>
<text class="m" transform="matrix(.377 0 0 1.33 546 0)">D</text>
<text class="b" transform="matrix(.408 0 0 .42 585 0)">V</text>
<text class="b" transform="matrix(.6 0 0 .8 593 -42)">I</text>
<text class="b" transform="matrix(.408 0 0 1.22 624 0)">V</text>
<text class="y" transform="matrix(.408 0 0 .09 663 0)">P</text>
<text class="m" transform="matrix(.408 0 0 .2 663 -9)">E</text>
<text class="p" transform="matrix(.377 0 0 .4 663 -29)">H</text>
<text class="g" transform="matrix(.408 0 0 .22 702 0)">S</text>
<text class="b" transform="matrix(.445 0 0 1 702 -22)">L</text>
<text class="b" transform="matrix(.408 0 0 .17 741 0)">V</text>
<text class="g" transform="matrix(.408 0 0 .2 741 -17)">S</text>
<text class="r" transform="matrix(.377 0 0 .45 741 -37)">K</text>
<text class="b" transform="matrix(.408 0 0 .29 780 0)">V</text>
<text class="b" transform="matrix(.6 0 0 .7 788 -29)">I</text>
<text class="o" transform="matrix(.35 0 0 1.34 819 0)">G</text>
<text class="r" transform="matrix(.377 0 0 .3 858 0)">K</text>
<text class="m" transform="matrix(.377 0 0 .9 858 -30)">D</text>
<text class="r" transform="matrix(.377 0 0 .35 897 0)">K</text>
<text class="g" transform="matrix(.35 0 0 .55 897 -35)">Q</text>
<text class="b" transform="matrix(.6 0 0 .15 944 0)">I</text>
<text class="b" transform="matrix(.408 0 0 .85 936 -15)">V</text>
<text class="y" transform="matrix(.408 0 0 1.33 975 0)">P</text>
<text class="b" transform="matrix(.377 0 0 1.33 1014 0)">A</text>
<text class="m" transform="matrix(.377 0 0 1.33 1053 0)">D</text>
<text class="b" transform="matrix(.326 0 0 .25 1092 0)">M</text>
<text class="o" transform="matrix(.35 0 0 .85 1092 -25)">G</text>
</g>

<g id="logo7" class="lg" transform="translate(222 2897)">
<text class="m" transform="matrix(.408 0 0 .13 0 0)">E</text>
<text class="g" transform="matrix(.377 0 0 .17 0 -13)">N</text>
<text class="y" transform="matrix(.408 0 0 .55 0 -30)">P</text>
<text class="b" transform="matrix(.326 0 0 .38 39 0)">M</text>
<text class="b" transform="matrix(.445 0 0 .65 39 -38)">F</text>
<text class="b" transform="matrix(.408 0 0 .45 78 0)">V</text>
<text class="b" transform="matrix(.445 0 0 .65 78 -45)">L</text>
<text class="b" transform="matrix(.408 0 0 .1 117 0)">V</text>
<text class="b" transform="matrix(.326 0 0 .18 117 -10)">M</text>
<text class="m" transform="matrix(.408 0 0 .15 117 -28)">E</text>
<text class="b" transform="matrix(.445 0 0 .45 117 -43)">L</text>
<text class="b" transform="matrix(.377 0 0 .36 156 0)">A</text>
<text class="g" transform="matrix(.408 0 0 .62 156 -36)">S</text>
<text class="o" transform="matrix(.35 0 0 1.35 195 0)">G</text>
<text class="g" transform="matrix(.408 0 0 .13 234 0)">S</text>
<text class="b" transform="matrix(.377 0 0 .15 234 -13)">C</text>
<text class="g" transform="matrix(.445 0 0 .75 234 -28)">T</text>
<text class="g" transform="matrix(.445 0 0 .3 273 0)">T</text>
<text class="r" transform="matrix(.377 0 0 .8 273 -30)">K</text>
<text class="b" transform="matrix(.408 0 0 1.35 312 0)">V</text>
<text class="m" transform="matrix(.377 0 0 .18 351 0)">D</text>
<text class="b" transform="matrix(.377 0 0 .15 351 -18)">A</text>
<text class="g" transform="matrix(.35 0 0 .15 351 -33)">Q</text>
<text class="b" transform="matrix(.408 0 0 .15 351 -48)">V</text>
<text class="b" transform="matrix(.377 0 0 .15 390 0)">A</text>
<text class="g" transform="matrix(.377 0 0 .18 390 -15)">N</text>
<text class="m" transform="matrix(.377 0 0 .6 390 -33)">D</text>
<text class="b" transform="matrix(.377 0 0 .2 429 0)">A</text>
<text class="o" transform="matrix(.35 0 0 1.15 429 -20)">G</text>
<text class="b" transform="matrix(.377 0 0 .15 468 0)">A</text>
<text class="r" transform="matrix(.377 0 0 .1 468 -15)">R</text>
<text class="c" transform="matrix(.408 0 0 .1 468 -25)">Y</text>
<text class="g" transform="matrix(.408 0 0 .45 468 -35)">S</text>
<text class="b" transform="matrix(.377 0 0 .2 507 0)">A</text>
<text class="b" transform="matrix(.377 0 0 .27 507 -20)">C</text>
<text class="o" transform="matrix(.35 0 0 .25 507 -47)">G</text>
<text class="m" transform="matrix(.408 0 0 .13 546 0)">E</text>
<text class="b" transform="matrix(.6 0 0 .13 554 -13)">I</text>
<text class="g" transform="matrix(.445 0 0 .15 546 -26)">T</text>
<text class="r" transform="matrix(.377 0 0 .22 546 -41)">K</text>
<text class="b" transform="matrix(.377 0 0 .28 585 0)">C</text>
<text class="b" transform="matrix(.326 0 0 .75 585 -28)">M</text>
<text class="b" transform="matrix(.408 0 0 .33 624 0)">Y</text>
<text class="b" transform="matrix(.445 0 0 .7 624 -33)">L</text>
<text class="b" transform="matrix(.408 0 0 1.35 663 0)">V</text>
<text class="b" transform="matrix(.408 0 0 .37 702 0)">Y</text>
<text class="g" transform="matrix(.445 0 0 .65 702 -37)">T</text>
<text class="g" transform="matrix(.408 0 0 .15 741 0)">S</text>
<text class="o" transform="matrix(.35 0 0 .25 741 -15)">G</text>
<text class="g" transform="matrix(.445 0 0 .25 741 -40)">T</text>
<text class="b" transform="matrix(.408 0 0 1.1 780 0)">V</text>
<text class="o" transform="matrix(.35 0 0 1.35 819 0)">G</text>
<text class="r" transform="matrix(.377 0 0 .17 858 0)">R</text>
<text class="b" transform="matrix(.6 0 0 .15 866 -17)">I</text>
<text class="b" transform="matrix(.326 0 0 .6 858 -32)">M</text>
<text class="b" transform="matrix(.445 0 0 .2 897 0)">L</text>
<text class="r" transform="matrix(.377 0 0 .25 897 -20)">R</text>
<text class="g" transform="matrix(.377 0 0 .2 897 -45)">N</text>
<text class="g" transform="matrix(.377 0 0 .12 936 0)">N</text>
<text class="g" transform="matrix(.445 0 0 1.1 936 -12)">T</text>
<text class="g" transform="matrix(.35 0 0 .2 975 0)">Q</text>
<text class="b" transform="matrix(.377 0 0 .24 975 -20)">A</text>
<text class="m" transform="matrix(.408 0 0 .48 975 -44)">E</text>
<text class="b" transform="matrix(.377 0 0 .15 1014 0)">A</text>
<text class="b" transform="matrix(.445 0 0 .15 1014 -15)">L</text>
<text class="b" transform="matrix(.288 0 0 .45 1014 -30)">W</text>
<text class="b" transform="matrix(.377 0 0 .12 1053 0)">A</text>
<text class="o" transform="matrix(.35 0 0 1.1 1053 -12)">G</text>
<text class="m" transform="matrix(.408 0 0 .3 1092 0)">E</text>
<text class="g" transform="matrix(.35 0 0 .15 1092 -30)">Q</text>
<text class="r" transform="matrix(.377 0 0 .3 1092 -45)">K</text>
<text class="b" transform="matrix(.408 0 0 .1 1131 0)">V</text>
<text class="g" transform="matrix(.445 0 0 .25 1131 -10)">T</text>
<text class="b" transform="matrix(.445 0 0 .6 1131 -35)">L</text>
<text class="b" transform="matrix(.445 0 0 .22 1170 0)">L</text>
<text class="m" transform="matrix(.408 0 0 .2 1170 -22)">E</text>
<text class="b" transform="matrix(.326 0 0 .4 1170 -42)">M</text>
<text class="g" transform="matrix(.35 0 0 .22 1209 0)">Q</text>
<text class="m" transform="matrix(.408 0 0 .2 1209 -22)">E</text>
<text class="b" transform="matrix(.377 0 0 .25 1209 -42)">A</text>
<text class="b" transform="matrix(.445 0 0 .22 1248 0)">L</text>
<text class="g" transform="matrix(.408 0 0 .2 1248 -22)">S</text>
<text class="g" transform="matrix(.445 0 0 .25 1248 -42)">T</text>
<text class="b" transform="matrix(.377 0 0 .2 1287 0)">A</text>
<text class="b" transform="matrix(.326 0 0 .12 1287 -20)">M</text>
<text class="b" transform="matrix(.6 0 0 .55 1295 -32)">I</text>
<text class="y" transform="matrix(.408 0 0 .25 1326 0)">P</text>
<text class="g" transform="matrix(.445 0 0 .15 1326 -25)">T</text>
<text class="g" transform="matrix(.408 0 0 .25 1326 -40)">S</text>
<text class="y" transform="matrix(.408 0 0 .22 1365 0)">P</text>
<text class="m" transform="matrix(.377 0 0 .25 1365 -22)">D</text>
<text class="m" transform="matrix(.408 0 0 .4 1365 -47)">E</text>
<text class="b" transform="matrix(.377 0 0 .24 1404 0)">A</text>
<text class="m" transform="matrix(.377 0 0 .2 1404 -24)">D</text>
<text class="o" transform="matrix(.35 0 0 .28 1404 -44)">G</text>
<text class="m" transform="matrix(.408 0 0 .17 1443 0)">E</text>
<text class="o" transform="matrix(.35 0 0 .15 1443 -17)">G</text>
<text class="g" transform="matrix(.408 0 0 .18 1443 -32)">S</text>
<text class="r" transform="matrix(.377 0 0 .14 1482 0)">K</text>
<text class="m" transform="matrix(.408 0 0 .2 1482 -14)">E</text>
<text class="m" transform="matrix(.377 0 0 .38 1482 -34)">D</text>
<text class="b" transform="matrix(.377 0 0 .15 1521 0)">A</text>
<text class="m" transform="matrix(.377 0 0 .2 1521 -15)">D</text>
<text class="m" transform="matrix(.408 0 0 .42 1521 -35)">E</text>
<text class="b" transform="matrix(.408 0 0 .2 1560 0)">Y</text>
<text class="m" transform="matrix(.408 0 0 .9 1560 -20)">E</text>
</g>

<g id="logo8" class="lg" transform="translate(222 3074.5)">
<text class="g" transform="matrix(.377 0 0 .2 0 0)">N</text>
<text class="r" transform="matrix(.377 0 0 1 0 -20)">R</text>
<text class="r" transform="matrix(.377 0 0 .16 39 0)">R</text>
<text class="g" transform="matrix(.35 0 0 .25 39 -16)">Q</text>
<text class="r" transform="matrix(.377 0 0 .4 39 -41)">K</text>
<text class="g" transform="matrix(.408 0 0 .11 78 0)">S</text>
<text class="m" transform="matrix(.408 0 0 .2 78 -11)">E</text>
<text class="g" transform="matrix(.377 0 0 .45 78 -31)">N</text>
<text class="g" transform="matrix(.408 0 0 .12 117 0)">S</text>
<text class="m" transform="matrix(.408 0 0 .14 117 -12)">E</text>
<text class="b" transform="matrix(.408 0 0 .15 117 -26)">V</text>
<text class="b" transform="matrix(.6 0 0 .15 125 -41)">I</text>
<text class="b" transform="matrix(.445 0 0 .15 156 0)">L</text>
<text class="b" transform="matrix(.445 0 0 .18 156 -15)">F</text>
<text class="c" transform="matrix(.408 0 0 .75 156 -33)">Y</text>
<text class="o" transform="matrix(.35 0 0 1.33 195 0)">G</text>
<text class="m" transform="matrix(.408 0 0 .15 234 0)">E</text>
<text class="g" transform="matrix(.408 0 0 .17 234 -15)">S</text>
<text class="b" transform="matrix(.377 0 0 .18 234 -32)">A</text>
<text class="g" transform="matrix(.377 0 0 1.33 273 0)">N</text>
<text class="m" transform="matrix(.408 0 0 .23 312 0)">E</text>
<text class="g" transform="matrix(.445 0 0 .15 312 -23)">T</text>
<text class="r" transform="matrix(.377 0 0 .25 312 -38)">K</text>
<text class="b" transform="matrix(.445 0 0 .18 351 0)">F</text>
<text class="b" transform="matrix(.445 0 0 .3 351 -18)">L</text>
<text class="c" transform="matrix(.408 0 0 .4 351 -48)">Y</text>
<text class="m" transform="matrix(.408 0 0 .2 390 0)">E</text>
<text class="g" transform="matrix(.445 0 0 .2 390 -20)">T</text>
<text class="y" transform="matrix(.408 0 0 .25 390 -40)">P</text>
<text class="m" transform="matrix(.408 0 0 .18 429 0)">E</text>
<text class="r" transform="matrix(.377 0 0 .2 429 -18)">R</text>
<text class="m" transform="matrix(.408 0 0 .35 429 -38)">E</text>
<text class="m" transform="matrix(.408 0 0 .23 468 0)">E</text>
<text class="g" transform="matrix(.408 0 0 .15 468 -23)">S</text>
<text class="r" transform="matrix(.377 0 0 .25 468 -38)">K</text>
<text class="m" transform="matrix(.408 0 0 .16 507 0)">E</text>
<text class="y" transform="matrix(.408 0 0 .25 507 -16)">P</text>
<text class="r" transform="matrix(.377 0 0 .5 507 -41)">K</text>
<text class="r" transform="matrix(.377 0 0 .18 546 0)">K</text>
<text class="m" transform="matrix(.408 0 0 .2 546 -18)">E</text>
<text class="o" transform="matrix(.35 0 0 .25 546 -38)">G</text>
<text class="r" transform="matrix(.377 0 0 .35 585 0)">K</text>
<text class="r" transform="matrix(.377 0 0 .45 585 -35)">R</text>
<text class="m" transform="matrix(.377 0 0 .15 624 0)">D</text>
<text class="g" transform="matrix(.408 0 0 .85 624 -15)">S</text>
<text class="c" transform="matrix(.408 0 0 .15 663 0)">Y</text>
<text class="b" transform="matrix(.445 0 0 .75 663 -15)">F</text>
<text class="b" transform="matrix(.6 0 0 .16 710 0)">I</text>
<text class="b" transform="matrix(.288 0 0 .9 702 -16)">W</text>
<text class="g" transform="matrix(.408 0 0 .15 741 0)">S</text>
<text class="b" transform="matrix(.6 0 0 .2 749 -15)">I</text>
<text class="r" transform="matrix(.377 0 0 .3 741 -35)">R</text>
<text class="b" transform="matrix(.445 0 0 .28 780 0)">L</text>
<text class="b" transform="matrix(.445 0 0 .8 780 -28)">F</text>
<text class="b" transform="matrix(.445 0 0 .31 819 0)">L</text>
<text class="b" transform="matrix(.408 0 0 .55 819 -31)">V</text>
<text class="m" transform="matrix(.408 0 0 .16 858 0)">E</text>
<text class="b" transform="matrix(.445 0 0 .15 858 -16)">L</text>
<text class="b" transform="matrix(.288 0 0 .55 858 -31)">W</text>
<text class="g" transform="matrix(.408 0 0 .15 897 0)">S</text>
<text class="o" transform="matrix(.35 0 0 .15 897 -15)">G</text>
<text class="m" transform="matrix(.408 0 0 .75 897 -30)">E</text>
<text class="g" transform="matrix(.35 0 0 .45 936 0)">Q</text>
<text class="b" transform="matrix(.377 0 0 .5 936 -45)">A</text>
<text class="b" transform="matrix(.445 0 0 .18 975 0)">F</text>
<text class="m" transform="matrix(.408 0 0 .2 975 -18)">E</text>
<text class="b" transform="matrix(.445 0 0 .3 975 -38)">L</text>
<text class="r" transform="matrix(.377 0 0 .18 1014 0)">K</text>
<text class="g" transform="matrix(.35 0 0 .18 1014 -18)">Q</text>
<text class="m" transform="matrix(.408 0 0 .2 1014 -36)">E</text>
<text class="b" transform="matrix(.326 0 0 .23 1053 0)">M</text>
<text class="m" transform="matrix(.377 0 0 1.1 1053 -23)">D</text>
<text class="b" transform="matrix(.445 0 0 .4 1092 0)">L</text>
<text class="g" transform="matrix(.445 0 0 .4 1092 -40)">T</text>
<text class="c" transform="matrix(.408 0 0 .2 1131 0)">Y</text>
<text class="b" transform="matrix(.445 0 0 .2 1131 -20)">L</text>
<text class="g" transform="matrix(.445 0 0 .55 1131 -40)">T</text>
<text class="r" transform="matrix(.377 0 0 .15 1170 0)">K</text>
<text class="c" transform="matrix(.408 0 0 .2 1170 -15)">Y</text>
<text class="b" transform="matrix(.445 0 0 .6 1170 -35)">L</text>
<text class="r" transform="matrix(.377 0 0 .16 1209 0)">K</text>
<text class="b" transform="matrix(.326 0 0 .3 1209 -16)">M</text>
<text class="b" transform="matrix(.6 0 0 .25 1217 -46)">I</text>
<text class="b" transform="matrix(.6 0 0 1.33 1256 0)">I</text>
<text class="b" transform="matrix(.326 0 0 .18 1287 0)">M</text>
<text class="b" transform="matrix(.445 0 0 1.15 1287 -18)">L</text>
<text class="b" transform="matrix(.377 0 0 .11 1326 0)">A</text>
<text class="o" transform="matrix(.35 0 0 .15 1326 -11)">G</text>
<text class="b" transform="matrix(.326 0 0 .2 1326 -26)">M</text>
<text class="g" transform="matrix(.445 0 0 .25 1326 -46)">T</text>
<text class="b" transform="matrix(.377 0 0 .18 1365 0)">A</text>
<text class="o" transform="matrix(.35 0 0 .15 1365 -18)">G</text>
<text class="b" transform="matrix(.408 0 0 .55 1365 -33)">V</text>
<text class="b" transform="matrix(.377 0 0 .4 1404 0)">A</text>
<text class="b" transform="matrix(.377 0 0 .65 1404 -40)">C</text>
<text class="b" transform="matrix(.445 0 0 .15 1443 0)">L</text>
<text class="b" transform="matrix(.445 0 0 .25 1443 -15)">F</text>
<text class="b" transform="matrix(.377 0 0 .8 1443 -40)">A</text>
<text class="b" transform="matrix(.445 0 0 .13 1482 0)">L</text>
<text class="b" transform="matrix(.445 0 0 .2 1482 -13)">F</text>
<text class="b" transform="matrix(.408 0 0 .55 1482 -33)">V</text>
<text class="c" transform="matrix(.408 0 0 .15 1521 0)">Y</text>
<text class="b" transform="matrix(.408 0 0 .8 1521 -15)">V</text>
<text class="g" transform="matrix(.408 0 0 1.33 1560 0)">S</text>
</g>

<g id="logo9" class="lg" transform="translate(222 3252)">
<text class="m" transform="matrix(.408 0 0 .11 0 0)">E</text>
<text class="g" transform="matrix(.408 0 0 .12 0 -11)">S</text>
<text class="b" transform="matrix(.408 0 0 .1 0 -23)">V</text>
<text class="m" transform="matrix(.377 0 0 .2 0 -33)">D</text>
<text class="m" transform="matrix(.408 0 0 .13 39 0)">E</text>
<text class="m" transform="matrix(.377 0 0 .15 39 -13)">D</text>
<text class="g" transform="matrix(.408 0 0 .2 39 -28)">S</text>
<text class="b" transform="matrix(.377 0 0 .35 39 -48)">A</text>
<text class="b" transform="matrix(.377 0 0 .12 78 0)">A</text>
<text class="g" transform="matrix(.445 0 0 .12 78 -12)">T</text>
<text class="g" transform="matrix(.377 0 0 .2 78 -24)">N</text>
<text class="r" transform="matrix(.377 0 0 .22 78 -44)">K</text>
<text class="g" transform="matrix(.445 0 0 .16 117 0)">T</text>
<text class="r" transform="matrix(.377 0 0 .15 117 -16)">R</text>
<text class="b" transform="matrix(.408 0 0 .12 117 -31)">V</text>
<text class="r" transform="matrix(.377 0 0 .2 117 -43)">K</text>
<text class="m" transform="matrix(.408 0 0 .12 156 0)">E</text>
<text class="b" transform="matrix(.6 0 0 .12 164 -12)">I</text>
<text class="r" transform="matrix(.377 0 0 .15 156 -24)">K</text>
<text class="b" transform="matrix(.408 0 0 .2 156 -39)">V</text>
<text class="y" transform="matrix(.408 0 0 .13 195 0)">P</text>
<text class="b" transform="matrix(.377 0 0 .15 195 -13)">A</text>
<text class="r" transform="matrix(.377 0 0 .25 195 -28)">K</text>
<text class="b" transform="matrix(.445 0 0 .3 195 -53)">L</text>
<text class="m" transform="matrix(.377 0 0 .14 234 0)">D</text>
<text class="b" transform="matrix(.326 0 0 .15 234 -14)">M</text>
<text class="g" transform="matrix(.377 0 0 .45 234 -29)">N</text>
<text class="g" transform="matrix(.445 0 0 1.34 273 0)">T</text>
<text class="c" transform="matrix(.408 0 0 .13 312 0)">Y</text>
<text class="m" transform="matrix(.408 0 0 .15 312 -13)">E</text>
<text class="b" transform="matrix(.408 0 0 .15 312 -28)">V</text>
<text class="b" transform="matrix(.445 0 0 .3 312 -43)">L</text>
<text class="b" transform="matrix(.326 0 0 .16 351 0)">M</text>
<text class="g" transform="matrix(.408 0 0 .17 351 -16)">S</text>
<text class="b" transform="matrix(.6 0 0 .53 359 -33)">I</text>
<text class="b" transform="matrix(.326 0 0 .16 390 0)">M</text>
<text class="b" transform="matrix(.445 0 0 .17 390 -16)">L</text>
<text class="b" transform="matrix(.445 0 0 .7 390 -33)">F</text>
<text class="c" transform="matrix(.408 0 0 .13 429 0)">Y</text>
<text class="g" transform="matrix(.408 0 0 .18 429 -13)">S</text>
<text class="g" transform="matrix(.377 0 0 .7 429 -31)">N</text>
<text class="b" transform="matrix(.377 0 0 .16 468 0)">A</text>
<text class="g" transform="matrix(.445 0 0 .15 468 -16)">T</text>
<text class="b" transform="matrix(.408 0 0 .15 468 -31)">V</text>
<text class="b" transform="matrix(.408 0 0 .2 468 -46)">Y</text>
<text class="b" transform="matrix(.445 0 0 .41 507 0)">L</text>
<text class="b" transform="matrix(.445 0 0 .7 507 -41)">F</text>
<text class="b" transform="matrix(.408 0 0 1.34 546 0)">V</text>
<text class="b" transform="matrix(.408 0 0 .09 585 0)">V</text>
<text class="b" transform="matrix(.377 0 0 .1 585 -9)">A</text>
<text class="b" transform="matrix(.445 0 0 .2 585 -19)">L</text>
<text class="b" transform="matrix(.445 0 0 .45 585 -39)">F</text>
<text class="b" transform="matrix(.408 0 0 .15 624 0)">V</text>
<text class="b" transform="matrix(.6 0 0 .18 632 -15)">I</text>
<text class="b" transform="matrix(.377 0 0 .7 624 -33)">C</text>
<text class="m" transform="matrix(.408 0 0 .29 663 0)">E</text>
<text class="b" transform="matrix(.6 0 0 .12 671 -29)">I</text>
<text class="g" transform="matrix(.35 0 0 .7 663 -41)">Q</text>
<text class="b" transform="matrix(.6 0 0 .19 710 0)">I</text>
<text class="b" transform="matrix(.326 0 0 .25 702 -19)">M</text>
<text class="b" transform="matrix(.408 0 0 .4 702 -44)">V</text>
<text class="b" transform="matrix(.6 0 0 .24 749 0)">I</text>
<text class="b" transform="matrix(.445 0 0 1.1 741 -24)">F</text>
<text class="g" transform="matrix(.377 0 0 1.34 780 0)">N</text>
<text class="b" transform="matrix(.377 0 0 .12 819 0)">A</text>
<text class="g" transform="matrix(.408 0 0 .12 819 -12)">S</text>
<text class="m" transform="matrix(.408 0 0 .65 819 -24)">E</text>
<text class="b" transform="matrix(.408 0 0 .1 858 0)">V</text>
<text class="b" transform="matrix(.445 0 0 .2 858 -10)">F</text>
<text class="g" transform="matrix(.445 0 0 .14 858 -30)">T</text>
<text class="b" transform="matrix(.445 0 0 .2 858 -44)">L</text>
<text class="g" transform="matrix(.377 0 0 1.23 897 0)">N</text>
<text class="m" transform="matrix(.408 0 0 .16 936 0)">E</text>
<text class="g" transform="matrix(.408 0 0 .25 936 -16)">S</text>
<text class="b" transform="matrix(.377 0 0 .35 936 -41)">A</text>
<text class="b" transform="matrix(.445 0 0 .31 975 0)">L</text>
<text class="r" transform="matrix(.377 0 0 .8 975 -31)">R</text>
<text class="m" transform="matrix(.408 0 0 .16 1014 0)">E</text>
<text class="m" transform="matrix(.377 0 0 .2 1014 -16)">D</text>
<text class="r" transform="matrix(.377 0 0 .15 1014 -36)">K</text>
<text class="g" transform="matrix(.408 0 0 .2 1014 -51)">S</text>
<text class="b" transform="matrix(.445 0 0 .14 1053 0)">L</text>
<text class="m" transform="matrix(.408 0 0 .3 1053 -14)">E</text>
<text class="b" transform="matrix(.326 0 0 .2 1053 -44)">M</text>
<text class="g" transform="matrix(.377 0 0 .13 1092 0)">N</text>
<text class="b" transform="matrix(.445 0 0 .13 1092 -13)">L</text>
<text class="m" transform="matrix(.377 0 0 .35 1092 -26)">D</text>
<text class="m" transform="matrix(.408 0 0 .35 1092 -61)">E</text>
<text class="b" transform="matrix(.326 0 0 .21 1131 0)">M</text>
<text class="m" transform="matrix(.408 0 0 .25 1131 -21)">E</text>
<text class="r" transform="matrix(.377 0 0 .3 1131 -46)">K</text>
<text class="b" transform="matrix(.445 0 0 .24 1170 0)">L</text>
<text class="g" transform="matrix(.408 0 0 .2 1170 -24)">S</text>
<text class="b" transform="matrix(.6 0 0 .2 1178 -44)">I</text>
<text class="b" transform="matrix(.445 0 0 .33 1209 0)">L</text>
<text class="g" transform="matrix(.377 0 0 .65 1209 -33)">N</text>
<text class="b" transform="matrix(.6 0 0 .14 1256 0)">I</text>
<text class="b" transform="matrix(.445 0 0 .2 1248 -14)">L</text>
<text class="b" transform="matrix(.408 0 0 .55 1248 -34)">V</text>
<text class="b" transform="matrix(.6 0 0 .15 1295 0)">I</text>
<text class="p" transform="matrix(.377 0 0 .18 1287 -15)">H</text>
<text class="b" transform="matrix(.408 0 0 .15 1287 -33)">Y</text>
<text class="b" transform="matrix(.445 0 0 .25 1287 -48)">F</text>
<text class="b" transform="matrix(.377 0 0 .16 1326 0)">A</text>
<text class="b" transform="matrix(.326 0 0 .1 1326 -16)">M</text>
<text class="r" transform="matrix(.377 0 0 .15 1326 -26)">R</text>
<text class="b" transform="matrix(.445 0 0 .09 1365 0)">L</text>
<text class="y" transform="matrix(.408 0 0 .25 1365 -9)">P</text>
<text class="o" transform="matrix(.35 0 0 .65 1365 -34)">G</text>
<text class="b" transform="matrix(.408 0 0 .18 1404 0)">V</text>
<text class="y" transform="matrix(.408 0 0 .2 1404 -18)">P</text>
<text class="b" transform="matrix(.6 0 0 .25 1412 -38)">I</text>
<text class="b" transform="matrix(.377 0 0 .14 1443 0)">C</text>
<text class="b" transform="matrix(.445 0 0 .15 1443 -14)">L</text>
<text class="b" transform="matrix(.445 0 0 .15 1443 -29)">F</text>
<text class="b" transform="matrix(.288 0 0 .15 1443 -44)">W</text>
<text class="o" transform="matrix(.35 0 0 .1 1482 0)">G</text>
<text class="m" transform="matrix(.377 0 0 .12 1482 -10)">D</text>
<text class="g" transform="matrix(.408 0 0 .15 1482 -22)">S</text>
<text class="r" transform="matrix(.377 0 0 .22 1482 -37)">K</text>
<text class="r" transform="matrix(.377 0 0 .13 1521 0)">R</text>
<text class="g" transform="matrix(.408 0 0 .2 1521 -13)">S</text>
<text class="g" transform="matrix(.377 0 0 .7 1521 -33)">N</text>
</g>

<g id="logo10" class="lg" transform="translate(222 3429.5)">
<text class="g" transform="matrix(.445 0 0 .14 0 0)">T</text>
<text class="b" transform="matrix(.408 0 0 .15 0 -14)">V</text>
<text class="g" transform="matrix(.408 0 0 .17 0 -29)">S</text>
<text class="o" transform="matrix(.35 0 0 .35 0 -46)">G</text>
<text class="b" transform="matrix(.6 0 0 .12 47 0)">I</text>
<text class="g" transform="matrix(.445 0 0 .12 39 -12)">T</text>
<text class="b" transform="matrix(.408 0 0 .13 39 -24)">V</text>
<text class="b" transform="matrix(.326 0 0 .12 39 -37)">M</text>
<text class="g" transform="matrix(.445 0 0 .12 78 0)">T</text>
<text class="b" transform="matrix(.408 0 0 .14 78 -12)">V</text>
<text class="o" transform="matrix(.35 0 0 .15 78 -26)">G</text>
<text class="g" transform="matrix(.445 0 0 .4 78 -41)">T</text>
<text class="b" transform="matrix(.445 0 0 .19 117 0)">L</text>
<text class="b" transform="matrix(.445 0 0 .2 117 -19)">F</text>
<text class="b" transform="matrix(.408 0 0 .3 117 -39)">V</text>
<text class="o" transform="matrix(.35 0 0 .12 156 0)">G</text>
<text class="b" transform="matrix(.445 0 0 .14 156 -12)">L</text>
<text class="p" transform="matrix(.377 0 0 .18 156 -26)">H</text>
<text class="b" transform="matrix(.408 0 0 .25 156 -44)">V</text>
<text class="g" transform="matrix(.408 0 0 .1 195 0)">S</text>
<text class="b" transform="matrix(.6 0 0 .12 203 -10)">I</text>
<text class="b" transform="matrix(.445 0 0 .2 195 -22)">L</text>
<text class="b" transform="matrix(.445 0 0 .4 195 -42)">F</text>
<text class="b" transform="matrix(.445 0 0 .22 234 0)">L</text>
<text class="g" transform="matrix(.35 0 0 .9 234 -22)">Q</text>
<text class="b" transform="matrix(.445 0 0 .41 273 0)">L</text>
<text class="b" transform="matrix(.6 0 0 .55 281 -41)">I</text>
<text class="b" transform="matrix(.445 0 0 .21 312 0)">F</text>
<text class="b" transform="matrix(.408 0 0 .25 312 -21)">V</text>
<text class="b" transform="matrix(.6 0 0 .5 320 -46)">I</text>
<text class="b" transform="matrix(.326 0 0 .21 351 0)">M</text>
<text class="c" transform="matrix(.408 0 0 .2 351 -21)">Y</text>
<text class="b" transform="matrix(.6 0 0 .55 359 -41)">I</text>
<text class="b" transform="matrix(.377 0 0 .21 390 0)">A</text>
<text class="b" transform="matrix(.445 0 0 .2 390 -21)">L</text>
<text class="b" transform="matrix(.408 0 0 .6 390 -41)">V</text>
<text class="m" transform="matrix(.377 0 0 .15 429 0)">D</text>
<text class="b" transform="matrix(.377 0 0 .12 429 -15)">C</text>
<text class="r" transform="matrix(.377 0 0 .12 429 -27)">R</text>
<text class="m" transform="matrix(.408 0 0 .3 429 -39)">E</text>
<text class="c" transform="matrix(.408 0 0 .17 468 0)">Y</text>
<text class="b" transform="matrix(.377 0 0 .15 468 -17)">C</text>
<text class="b" transform="matrix(.445 0 0 .5 468 -32)">F</text>
<text class="b" transform="matrix(.445 0 0 1.36 507 0)">L</text>
<text class="r" transform="matrix(.377 0 0 .12 546 0)">R</text>
<text class="b" transform="matrix(.377 0 0 .14 546 -12)">A</text>
<text class="r" transform="matrix(.377 0 0 .15 546 -26)">K</text>
<text class="o" transform="matrix(.35 0 0 .4 546 -41)">G</text>
<text class="o" transform="matrix(.35 0 0 .14 585 0)">G</text>
<text class="b" transform="matrix(.326 0 0 .15 585 -14)">M</text>
<text class="r" transform="matrix(.377 0 0 .15 585 -29)">K</text>
<text class="g" transform="matrix(.445 0 0 .15 585 -44)">T</text>
<text class="b" transform="matrix(.445 0 0 .29 624 0)">L</text>
<text class="b" transform="matrix(.445 0 0 .75 624 -29)">F</text>
<text class="g" transform="matrix(.445 0 0 .14 663 0)">T</text>
<text class="b" transform="matrix(.445 0 0 .2 663 -14)">L</text>
<text class="b" transform="matrix(.377 0 0 .35 663 -34)">A</text>
<text class="r" transform="matrix(.377 0 0 .12 702 0)">R</text>
<text class="o" transform="matrix(.35 0 0 .15 702 -12)">G</text>
<text class="g" transform="matrix(.377 0 0 .15 702 -27)">N</text>
<text class="g" transform="matrix(.408 0 0 .35 702 -42)">S</text>
<text class="b" transform="matrix(.6 0 0 .34 749 0)">I</text>
<text class="g" transform="matrix(.445 0 0 .7 741 -34)">T</text>
<text class="b" transform="matrix(.408 0 0 .14 780 0)">V</text>
<text class="m" transform="matrix(.408 0 0 .15 780 -14)">E</text>
<text class="g" transform="matrix(.445 0 0 .2 780 -29)">T</text>
<text class="b" transform="matrix(.408 0 0 .35 780 -49)">V</text>
<text class="r" transform="matrix(.377 0 0 .39 819 0)">R</text>
<text class="y" transform="matrix(.408 0 0 .7 819 -39)">P</text>
<text class="b" transform="matrix(.445 0 0 1.36 858 0)">L</text>
<text class="b" transform="matrix(.377 0 0 .12 897 0)">A</text>
<text class="g" transform="matrix(.377 0 0 .2 897 -12)">N</text>
<text class="g" transform="matrix(.408 0 0 .45 897 -32)">S</text>
<text class="b" transform="matrix(.445 0 0 .17 936 0)">F</text>
<text class="b" transform="matrix(.445 0 0 .2 936 -17)">L</text>
<text class="b" transform="matrix(.288 0 0 .35 936 -37)">W</text>
<text class="m" transform="matrix(.408 0 0 .14 975 0)">E</text>
<text class="b" transform="matrix(.445 0 0 .12 975 -14)">L</text>
<text class="g" transform="matrix(.35 0 0 .18 975 -26)">Q</text>
<text class="m" transform="matrix(.408 0 0 .16 1014 0)">E</text>
<text class="b" transform="matrix(.445 0 0 .4 1014 -16)">L</text>
<text class="g" transform="matrix(.35 0 0 .55 1014 -56)">Q</text>
<text class="b" transform="matrix(.288 0 0 1.36 1053 0)">W</text>
<text class="b" transform="matrix(.408 0 0 .14 1092 0)">V</text>
<text class="m" transform="matrix(.408 0 0 .15 1092 -14)">E</text>
<text class="b" transform="matrix(.445 0 0 .3 1092 -29)">L</text>
<text class="b" transform="matrix(.377 0 0 .2 1131 0)">C</text>
<text class="b" transform="matrix(.445 0 0 .22 1131 -20)">L</text>
<text class="b" transform="matrix(.408 0 0 .3 1131 -42)">V</text>
<text class="b" transform="matrix(.377 0 0 .19 1170 0)">C</text>
<text class="b" transform="matrix(.408 0 0 .25 1170 -19)">V</text>
<text class="g" transform="matrix(.408 0 0 .5 1170 -44)">S</text>
<text class="b" transform="matrix(.445 0 0 .27 1209 0)">L</text>
<text class="b" transform="matrix(.6 0 0 .2 1217 -27)">I</text>
<text class="b" transform="matrix(.408 0 0 .3 1209 -47)">Y</text>
<text class="b" transform="matrix(.445 0 0 .12 1248 0)">L</text>
<text class="b" transform="matrix(.377 0 0 .15 1248 -12)">A</text>
<text class="o" transform="matrix(.35 0 0 .15 1248 -27)">G</text>
<text class="b" transform="matrix(.377 0 0 .27 1287 0)">A</text>
<text class="b" transform="matrix(.408 0 0 .2 1287 -27)">V</text>
<text class="b" transform="matrix(.6 0 0 .3 1295 -47)">I</text>
<text class="b" transform="matrix(.377 0 0 .14 1326 0)">A</text>
<text class="g" transform="matrix(.408 0 0 .25 1326 -14)">S</text>
<text class="o" transform="matrix(.35 0 0 .55 1326 -39)">G</text>
<text class="g" transform="matrix(.445 0 0 .19 1365 0)">T</text>
<text class="b" transform="matrix(.377 0 0 .2 1365 -19)">A</text>
<text class="b" transform="matrix(.445 0 0 .2 1365 -39)">F</text>
<text class="b" transform="matrix(.377 0 0 .19 1404 0)">A</text>
<text class="y" transform="matrix(.408 0 0 .25 1404 -19)">P</text>
<text class="b" transform="matrix(.445 0 0 .25 1404 -44)">L</text>
<text class="o" transform="matrix(.35 0 0 .14 1443 0)">G</text>
<text class="b" transform="matrix(.408 0 0 .25 1443 -14)">V</text>
<text class="g" transform="matrix(.408 0 0 .55 1443 -39)">S</text>
<text class="b" transform="matrix(.445 0 0 .11 1482 0)">L</text>
<text class="b" transform="matrix(.326 0 0 .2 1482 -11)">M</text>
<text class="b" transform="matrix(.6 0 0 .15 1490 -31)">I</text>
<text class="b" transform="matrix(.288 0 0 .3 1482 -46)">W</text>
<text class="g" transform="matrix(.445 0 0 .12 1521 0)">T</text>
<text class="b" transform="matrix(.445 0 0 .3 1521 -12)">L</text>
<text class="y" transform="matrix(.408 0 0 .55 1521 -42)">P</text>
<text class="b" transform="matrix(.445 0 0 .36 1560 0)">L</text>
<text class="b" transform="matrix(.6 0 0 .45 1568 -36)">I</text>
<text class="b" transform="matrix(.377 0 0 .15 1599 0)">A</text>
<text class="m" transform="matrix(.377 0 0 .22 1599 -15)">D</text>
<text class="b" transform="matrix(.377 0 0 .25 1599 -37)">A</text>
<text class="b" transform="matrix(.288 0 0 .11 1638 0)">W</text>
<text class="b" transform="matrix(.377 0 0 .2 1638 -11)">A</text>
<text class="m" transform="matrix(.408 0 0 .2 1638 -31)">E</text>
<text class="b" transform="matrix(.408 0 0 .25 1638 -51)">V</text>
<text class="b" transform="matrix(.445 0 0 .14 1677 0)">L</text>
<text class="b" transform="matrix(.377 0 0 .2 1677 -14)">A</text>
<text class="b" transform="matrix(.6 0 0 .3 1685 -34)">I</text>
<text class="o" transform="matrix(.35 0 0 .14 1716 0)">G</text>
<text class="g" transform="matrix(.445 0 0 .15 1716 -14)">T</text>
<text class="b" transform="matrix(.445 0 0 .4 1716 -29)">L</text>
<text class="r" transform="matrix(.377 0 0 1.36 1755 0)">K</text>
<text class="b" transform="matrix(.326 0 0 .12 1794 0)">M</text>
<text class="m" transform="matrix(.408 0 0 .12 1794 -12)">E</text>
<text class="b" transform="matrix(.445 0 0 .2 1794 -24)">L</text>
<text class="b" transform="matrix(.445 0 0 .3 1794 -44)">F</text>
<text class="b" transform="matrix(.445 0 0 .12 1833 0)">L</text>
<text class="b" transform="matrix(.326 0 0 .15 1833 -12)">M</text>
<text class="b" transform="matrix(.6 0 0 .7 1841 -27)">I</text>
<text class="r" transform="matrix(.377 0 0 .21 1872 0)">R</text>
<text class="o" transform="matrix(.35 0 0 .15 1872 -21)">G</text>
<text class="y" transform="matrix(.408 0 0 .45 1872 -36)">P</text>
<text class="r" transform="matrix(.377 0 0 .36 1911 0)">R</text>
<text class="b" transform="matrix(.408 0 0 .75 1911 -36)">V</text>
</g>
</svg>
